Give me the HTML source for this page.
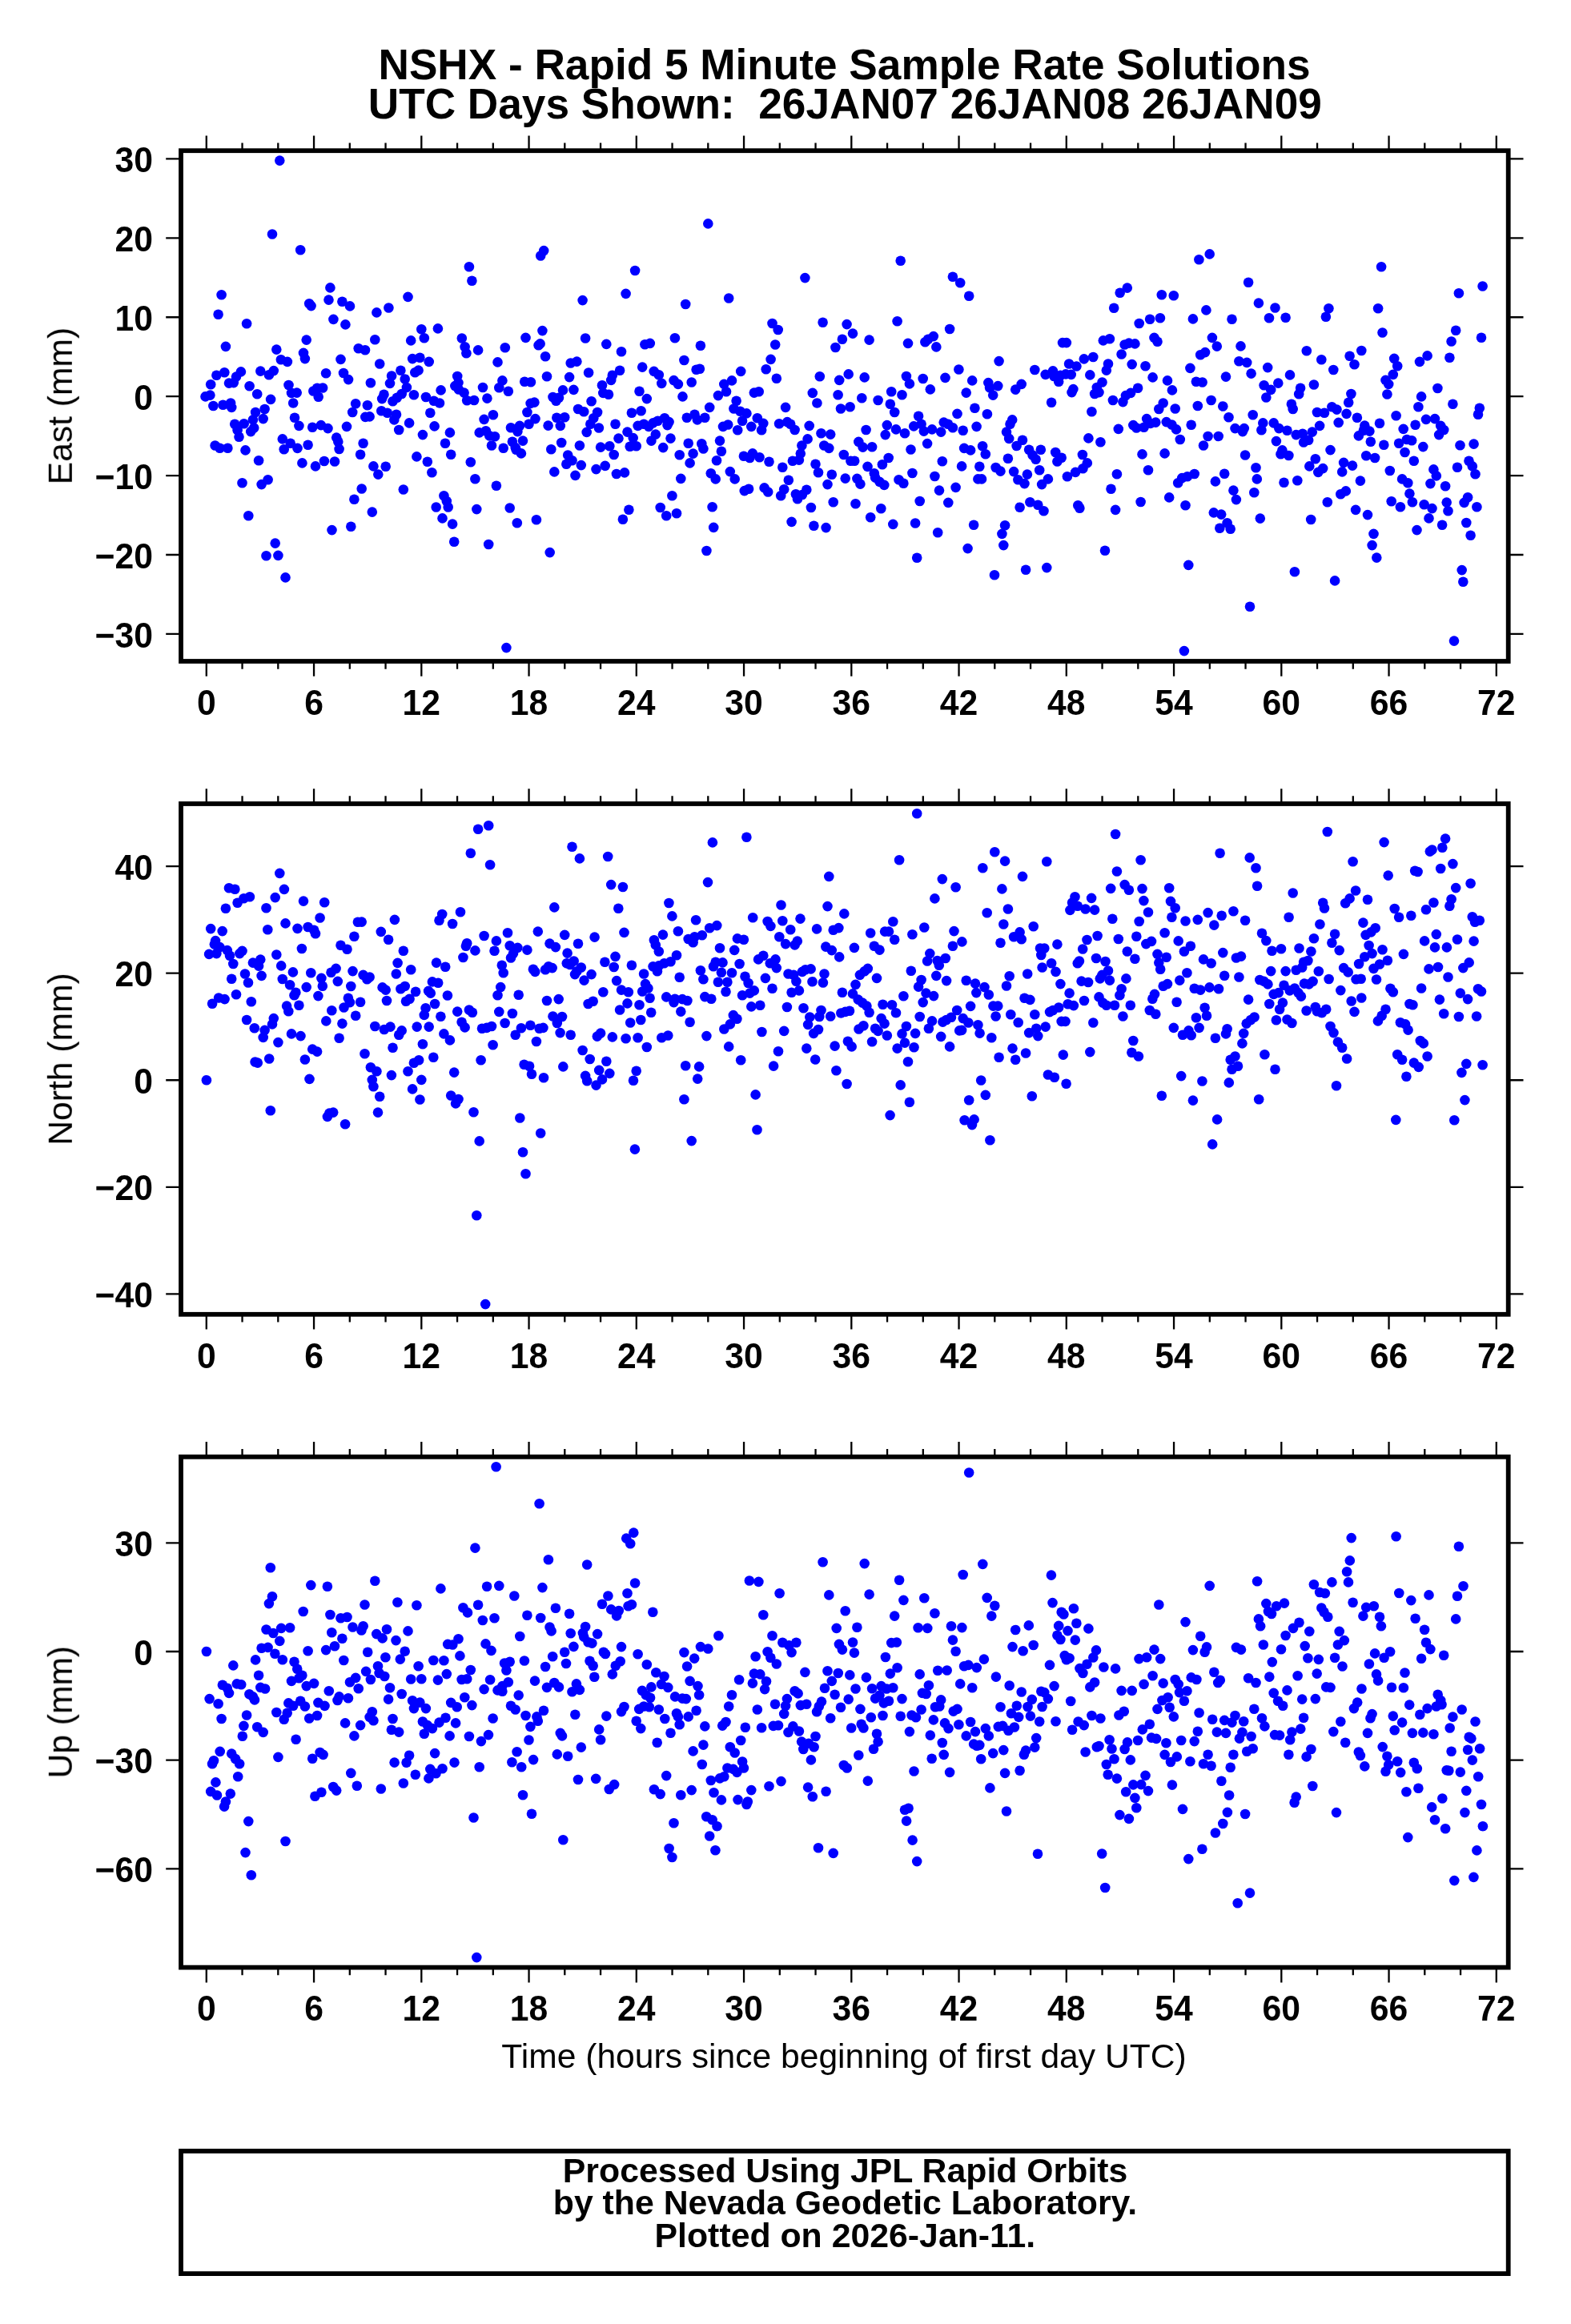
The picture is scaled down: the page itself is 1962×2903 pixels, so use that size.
<!DOCTYPE html>
<html><head><meta charset="utf-8"><title>NSHX</title>
<style>html,body{margin:0;padding:0;background:#fff}svg{display:block}text{font-family:"Liberation Sans",sans-serif;fill:#000}.b{font-weight:bold}</style></head><body>
<svg width="1962" height="2903" viewBox="0 0 1962 2903">
<rect width="1962" height="2903" fill="#fff"/>
<g fill="#0000ff">
<circle cx="414.5" cy="662.1" r="6.3"/><circle cx="1251.4" cy="666.9" r="6.3"/><circle cx="1715.5" cy="666.9" r="6.3"/><circle cx="891.2" cy="658.9" r="6.3"/><circle cx="438.3" cy="657.8" r="6.3"/><circle cx="1255.1" cy="656.2" r="6.3"/><circle cx="1216.1" cy="655.7" r="6.3"/><circle cx="1199.2" cy="353.2" r="6.3"/><circle cx="793.1" cy="338.0" r="6.3"/><circle cx="412.4" cy="359.4" r="6.3"/><circle cx="1637.2" cy="649.0" r="6.3"/><circle cx="1725.1" cy="333.2" r="6.3"/><circle cx="1253.3" cy="681.1" r="6.3"/><circle cx="1713.6" cy="681.1" r="6.3"/><circle cx="832.2" cy="644.2" r="6.3"/><circle cx="781.6" cy="366.9" r="6.3"/><circle cx="1189.9" cy="345.7" r="6.3"/><circle cx="777.9" cy="648.7" r="6.3"/><circle cx="1708.0" cy="643.1" r="6.3"/><circle cx="845.0" cy="641.2" r="6.3"/><circle cx="1210.2" cy="369.8" r="6.3"/><circle cx="1208.6" cy="685.1" r="6.3"/><circle cx="464.8" cy="639.6" r="6.3"/><circle cx="509.5" cy="370.9" r="6.3"/><circle cx="910.2" cy="372.5" r="6.3"/><circle cx="1303.5" cy="638.3" r="6.3"/><circle cx="882.4" cy="688.0" r="6.3"/><circle cx="1693.1" cy="636.9" r="6.3"/><circle cx="785.4" cy="636.7" r="6.3"/><circle cx="410.5" cy="374.6" r="6.3"/><circle cx="427.4" cy="376.7" r="6.3"/><circle cx="824.7" cy="634.0" r="6.3"/><circle cx="1273.6" cy="633.7" r="6.3"/><circle cx="1748.9" cy="633.2" r="6.3"/><circle cx="889.6" cy="633.2" r="6.3"/><circle cx="386.2" cy="379.2" r="6.3"/><circle cx="856.2" cy="380.0" r="6.3"/><circle cx="1296.3" cy="630.8" r="6.3"/><circle cx="1719.3" cy="696.6" r="6.3"/><circle cx="388.6" cy="382.1" r="6.3"/><circle cx="437.0" cy="382.4" r="6.3"/><circle cx="1184.3" cy="627.9" r="6.3"/><circle cx="375.2" cy="312.3" r="6.3"/><circle cx="1286.4" cy="627.3" r="6.3"/><circle cx="1657.8" cy="627.3" r="6.3"/><circle cx="1592.5" cy="384.5" r="6.3"/><circle cx="485.4" cy="384.5" r="6.3"/><circle cx="1737.7" cy="626.2" r="6.3"/><circle cx="1346.3" cy="631.3" r="6.3"/><circle cx="1659.4" cy="385.3" r="6.3"/><circle cx="1721.1" cy="385.3" r="6.3"/><circle cx="347.4" cy="693.9" r="6.3"/><circle cx="1171.2" cy="665.3" r="6.3"/><circle cx="442.4" cy="623.8" r="6.3"/><circle cx="1348.4" cy="634.8" r="6.3"/><circle cx="343.7" cy="678.6" r="6.3"/><circle cx="470.4" cy="390.4" r="6.3"/><circle cx="1763.9" cy="627.3" r="6.3"/><circle cx="839.4" cy="619.3" r="6.3"/><circle cx="1674.3" cy="617.2" r="6.3"/><circle cx="1307.3" cy="709.1" r="6.3"/><circle cx="1760.4" cy="616.6" r="6.3"/><circle cx="1573.8" cy="647.6" r="6.3"/><circle cx="1655.9" cy="395.7" r="6.3"/><circle cx="1769.5" cy="662.1" r="6.3"/><circle cx="1281.1" cy="711.8" r="6.3"/><circle cx="1605.6" cy="396.8" r="6.3"/><circle cx="1571.9" cy="378.6" r="6.3"/><circle cx="1585.0" cy="397.3" r="6.3"/><circle cx="1680.8" cy="613.4" r="6.3"/><circle cx="929.7" cy="613.1" r="6.3"/><circle cx="1173.0" cy="612.6" r="6.3"/><circle cx="416.4" cy="398.9" r="6.3"/><circle cx="1616.9" cy="714.2" r="6.3"/><circle cx="503.8" cy="611.5" r="6.3"/><circle cx="935.1" cy="610.7" r="6.3"/><circle cx="451.7" cy="610.5" r="6.3"/><circle cx="332.5" cy="694.2" r="6.3"/><circle cx="1193.6" cy="608.9" r="6.3"/><circle cx="1566.3" cy="615.3" r="6.3"/><circle cx="1242.0" cy="718.2" r="6.3"/><circle cx="340.0" cy="292.5" r="6.3"/><circle cx="431.4" cy="405.4" r="6.3"/><circle cx="1778.6" cy="630.3" r="6.3"/><circle cx="954.6" cy="609.4" r="6.3"/><circle cx="1301.1" cy="605.1" r="6.3"/><circle cx="326.6" cy="605.1" r="6.3"/><circle cx="356.5" cy="721.4" r="6.3"/><circle cx="1279.5" cy="604.1" r="6.3"/><circle cx="1758.3" cy="603.3" r="6.3"/><circle cx="544.7" cy="633.5" r="6.3"/><circle cx="1148.7" cy="626.0" r="6.3"/><circle cx="1603.5" cy="602.7" r="6.3"/><circle cx="1559.1" cy="352.7" r="6.3"/><circle cx="959.2" cy="614.5" r="6.3"/><circle cx="1698.9" cy="600.6" r="6.3"/><circle cx="1667.1" cy="725.4" r="6.3"/><circle cx="546.9" cy="410.4" r="6.3"/><circle cx="1620.3" cy="600.3" r="6.3"/><circle cx="1186.1" cy="411.0" r="6.3"/><circle cx="526.3" cy="411.2" r="6.3"/><circle cx="1784.5" cy="647.4" r="6.3"/><circle cx="1271.4" cy="599.2" r="6.3"/><circle cx="1145.2" cy="696.8" r="6.3"/><circle cx="334.6" cy="599.2" r="6.3"/><circle cx="1221.4" cy="598.4" r="6.3"/><circle cx="1226.0" cy="598.4" r="6.3"/><circle cx="1308.9" cy="598.4" r="6.3"/><circle cx="1569.8" cy="598.4" r="6.3"/><circle cx="1751.1" cy="598.4" r="6.3"/><circle cx="893.7" cy="598.4" r="6.3"/><circle cx="917.7" cy="598.4" r="6.3"/><circle cx="850.3" cy="597.9" r="6.3"/><circle cx="1786.4" cy="604.1" r="6.3"/><circle cx="1143.1" cy="653.5" r="6.3"/><circle cx="1726.5" cy="415.5" r="6.3"/><circle cx="1788.5" cy="635.1" r="6.3"/><circle cx="552.5" cy="647.4" r="6.3"/><circle cx="964.5" cy="404.0" r="6.3"/><circle cx="1332.9" cy="595.2" r="6.3"/><circle cx="1167.4" cy="595.0" r="6.3"/><circle cx="884.3" cy="279.4" r="6.3"/><circle cx="554.4" cy="619.3" r="6.3"/><circle cx="727.6" cy="375.1" r="6.3"/><circle cx="1282.9" cy="592.6" r="6.3"/><circle cx="472.3" cy="592.6" r="6.3"/><circle cx="1380.0" cy="687.7" r="6.3"/><circle cx="769.9" cy="592.0" r="6.3"/><circle cx="887.8" cy="591.2" r="6.3"/><circle cx="1139.4" cy="591.0" r="6.3"/><circle cx="1165.8" cy="420.1" r="6.3"/><circle cx="780.0" cy="590.4" r="6.3"/><circle cx="1793.8" cy="594.4" r="6.3"/><circle cx="539.4" cy="590.2" r="6.3"/><circle cx="557.8" cy="626.0" r="6.3"/><circle cx="1343.1" cy="589.9" r="6.3"/><circle cx="1646.3" cy="589.9" r="6.3"/><circle cx="1676.2" cy="589.4" r="6.3"/><circle cx="1266.1" cy="589.1" r="6.3"/><circle cx="911.8" cy="589.1" r="6.3"/><circle cx="529.8" cy="422.2" r="6.3"/><circle cx="842.9" cy="422.2" r="6.3"/><circle cx="1249.5" cy="588.6" r="6.3"/><circle cx="731.1" cy="422.5" r="6.3"/><circle cx="310.3" cy="644.2" r="6.3"/><circle cx="559.7" cy="633.5" r="6.3"/><circle cx="971.7" cy="412.0" r="6.3"/><circle cx="1735.8" cy="588.0" r="6.3"/><circle cx="1298.2" cy="587.2" r="6.3"/><circle cx="1159.1" cy="423.8" r="6.3"/><circle cx="468.3" cy="424.3" r="6.3"/><circle cx="1790.4" cy="586.4" r="6.3"/><circle cx="382.7" cy="424.6" r="6.3"/><circle cx="308.1" cy="404.3" r="6.3"/><circle cx="744.5" cy="586.1" r="6.3"/><circle cx="1385.9" cy="423.3" r="6.3"/><circle cx="1543.9" cy="624.1" r="6.3"/><circle cx="1377.8" cy="425.4" r="6.3"/><circle cx="513.2" cy="425.4" r="6.3"/><circle cx="1352.4" cy="585.3" r="6.3"/><circle cx="1652.2" cy="585.1" r="6.3"/><circle cx="975.2" cy="619.3" r="6.3"/><circle cx="1387.5" cy="610.7" r="6.3"/><circle cx="718.5" cy="593.9" r="6.3"/><circle cx="1568.5" cy="584.3" r="6.3"/><circle cx="1243.6" cy="584.0" r="6.3"/><circle cx="1155.4" cy="427.3" r="6.3"/><circle cx="1801.1" cy="655.7" r="6.3"/><circle cx="1327.0" cy="428.1" r="6.3"/><circle cx="1331.9" cy="428.1" r="6.3"/><circle cx="565.1" cy="654.6" r="6.3"/><circle cx="1223.3" cy="582.7" r="6.3"/><circle cx="481.7" cy="582.7" r="6.3"/><circle cx="977.3" cy="583.7" r="6.3"/><circle cx="1128.4" cy="603.8" r="6.3"/><circle cx="1540.4" cy="612.6" r="6.3"/><circle cx="1201.1" cy="582.4" r="6.3"/><circle cx="1635.3" cy="582.4" r="6.3"/><circle cx="394.0" cy="582.4" r="6.3"/><circle cx="466.4" cy="582.4" r="6.3"/><circle cx="1134.0" cy="428.9" r="6.3"/><circle cx="811.8" cy="428.9" r="6.3"/><circle cx="755.7" cy="581.9" r="6.3"/><circle cx="1689.0" cy="581.6" r="6.3"/><circle cx="757.3" cy="429.9" r="6.3"/><circle cx="725.8" cy="581.1" r="6.3"/><circle cx="805.4" cy="430.2" r="6.3"/><circle cx="1391.2" cy="384.8" r="6.3"/><circle cx="567.2" cy="676.8" r="6.3"/><circle cx="979.2" cy="611.3" r="6.3"/><circle cx="1538.5" cy="398.7" r="6.3"/><circle cx="302.5" cy="603.3" r="6.3"/><circle cx="968.2" cy="430.5" r="6.3"/><circle cx="874.9" cy="431.8" r="6.3"/><circle cx="1393.1" cy="636.9" r="6.3"/><circle cx="1805.1" cy="607.3" r="6.3"/><circle cx="1124.7" cy="325.7" r="6.3"/><circle cx="1536.7" cy="660.7" r="6.3"/><circle cx="1549.5" cy="432.4" r="6.3"/><circle cx="1357.8" cy="578.4" r="6.3"/><circle cx="377.4" cy="578.4" r="6.3"/><circle cx="861.6" cy="578.4" r="6.3"/><circle cx="1678.1" cy="577.9" r="6.3"/><circle cx="1169.3" cy="433.4" r="6.3"/><circle cx="1806.7" cy="627.6" r="6.3"/><circle cx="1394.9" cy="592.3" r="6.3"/><circle cx="533.8" cy="576.8" r="6.3"/><circle cx="960.5" cy="576.8" r="6.3"/><circle cx="1320.4" cy="576.5" r="6.3"/><circle cx="1122.5" cy="599.2" r="6.3"/><circle cx="418.0" cy="576.5" r="6.3"/><circle cx="1176.8" cy="576.3" r="6.3"/><circle cx="404.9" cy="576.0" r="6.3"/><circle cx="1765.8" cy="575.7" r="6.3"/><circle cx="447.7" cy="435.3" r="6.3"/><circle cx="1808.5" cy="638.3" r="6.3"/><circle cx="323.1" cy="575.2" r="6.3"/><circle cx="714.5" cy="575.2" r="6.3"/><circle cx="895.0" cy="575.2" r="6.3"/><circle cx="984.8" cy="599.8" r="6.3"/><circle cx="1120.6" cy="401.3" r="6.3"/><circle cx="1532.6" cy="653.2" r="6.3"/><circle cx="345.3" cy="436.6" r="6.3"/><circle cx="456.0" cy="437.2" r="6.3"/><circle cx="1293.6" cy="573.8" r="6.3"/><circle cx="1398.7" cy="365.8" r="6.3"/><circle cx="1642.8" cy="573.3" r="6.3"/><circle cx="707.3" cy="579.7" r="6.3"/><circle cx="1700.3" cy="438.0" r="6.3"/><circle cx="1631.8" cy="438.2" r="6.3"/><circle cx="1258.9" cy="572.8" r="6.3"/><circle cx="1717.1" cy="572.0" r="6.3"/><circle cx="936.4" cy="572.0" r="6.3"/><circle cx="1325.7" cy="571.7" r="6.3"/><circle cx="776.0" cy="439.3" r="6.3"/><circle cx="1812.6" cy="426.5" r="6.3"/><circle cx="988.6" cy="651.9" r="6.3"/><circle cx="1529.2" cy="591.8" r="6.3"/><circle cx="576.8" cy="422.5" r="6.3"/><circle cx="948.5" cy="571.2" r="6.3"/><circle cx="520.4" cy="570.4" r="6.3"/><circle cx="379.0" cy="440.9" r="6.3"/><circle cx="989.9" cy="575.7" r="6.3"/><circle cx="928.9" cy="569.8" r="6.3"/><circle cx="1115.3" cy="654.9" r="6.3"/><circle cx="1706.2" cy="569.3" r="6.3"/><circle cx="1609.4" cy="569.0" r="6.3"/><circle cx="1400.6" cy="442.5" r="6.3"/><circle cx="1289.6" cy="568.5" r="6.3"/><circle cx="1555.1" cy="568.5" r="6.3"/><circle cx="709.2" cy="568.5" r="6.3"/><circle cx="1561.0" cy="757.8" r="6.3"/><circle cx="848.7" cy="568.2" r="6.3"/><circle cx="1351.9" cy="568.0" r="6.3"/><circle cx="766.7" cy="568.0" r="6.3"/><circle cx="450.1" cy="567.7" r="6.3"/><circle cx="563.2" cy="567.7" r="6.3"/><circle cx="1404.6" cy="430.5" r="6.3"/><circle cx="580.6" cy="433.2" r="6.3"/><circle cx="1230.8" cy="567.2" r="6.3"/><circle cx="1599.5" cy="567.2" r="6.3"/><circle cx="1525.2" cy="642.6" r="6.3"/><circle cx="1782.6" cy="444.4" r="6.3"/><circle cx="865.6" cy="566.6" r="6.3"/><circle cx="939.9" cy="566.4" r="6.3"/><circle cx="1685.6" cy="444.7" r="6.3"/><circle cx="993.9" cy="617.2" r="6.3"/><circle cx="1818.2" cy="412.8" r="6.3"/><circle cx="582.4" cy="441.2" r="6.3"/><circle cx="1523.3" cy="659.7" r="6.3"/><circle cx="1365.3" cy="446.0" r="6.3"/><circle cx="1318.2" cy="565.0" r="6.3"/><circle cx="1754.5" cy="565.0" r="6.3"/><circle cx="1407.8" cy="359.6" r="6.3"/><circle cx="1810.4" cy="446.8" r="6.3"/><circle cx="524.4" cy="446.8" r="6.3"/><circle cx="1820.0" cy="583.7" r="6.3"/><circle cx="996.0" cy="623.3" r="6.3"/><circle cx="1109.7" cy="572.0" r="6.3"/><circle cx="900.9" cy="563.7" r="6.3"/><circle cx="1741.2" cy="447.9" r="6.3"/><circle cx="380.9" cy="448.1" r="6.3"/><circle cx="515.1" cy="448.1" r="6.3"/><circle cx="1353.8" cy="448.4" r="6.3"/><circle cx="1212.1" cy="562.4" r="6.3"/><circle cx="1601.4" cy="562.4" r="6.3"/><circle cx="306.5" cy="562.4" r="6.3"/><circle cx="1661.5" cy="562.1" r="6.3"/><circle cx="585.9" cy="333.2" r="6.3"/><circle cx="425.5" cy="448.9" r="6.3"/><circle cx="962.6" cy="448.9" r="6.3"/><circle cx="997.9" cy="574.6" r="6.3"/><circle cx="1409.9" cy="428.6" r="6.3"/><circle cx="1821.9" cy="366.3" r="6.3"/><circle cx="1650.3" cy="449.2" r="6.3"/><circle cx="350.9" cy="449.2" r="6.3"/><circle cx="1285.1" cy="561.8" r="6.3"/><circle cx="1299.8" cy="561.8" r="6.3"/><circle cx="1519.8" cy="432.6" r="6.3"/><circle cx="1137.5" cy="561.5" r="6.3"/><circle cx="354.7" cy="561.3" r="6.3"/><circle cx="423.6" cy="561.0" r="6.3"/><circle cx="854.4" cy="450.0" r="6.3"/><circle cx="878.4" cy="560.5" r="6.3"/><circle cx="587.8" cy="577.3" r="6.3"/><circle cx="999.8" cy="566.6" r="6.3"/><circle cx="1517.9" cy="601.4" r="6.3"/><circle cx="1247.6" cy="451.1" r="6.3"/><circle cx="1204.1" cy="559.9" r="6.3"/><circle cx="281.9" cy="432.9" r="6.3"/><circle cx="371.5" cy="559.9" r="6.3"/><circle cx="284.4" cy="559.7" r="6.3"/><circle cx="1547.4" cy="451.3" r="6.3"/><circle cx="720.4" cy="451.6" r="6.3"/><circle cx="1773.0" cy="451.9" r="6.3"/><circle cx="358.9" cy="451.9" r="6.3"/><circle cx="535.7" cy="451.9" r="6.3"/><circle cx="828.2" cy="559.1" r="6.3"/><circle cx="589.4" cy="350.8" r="6.3"/><circle cx="750.1" cy="558.6" r="6.3"/><circle cx="1104.3" cy="605.9" r="6.3"/><circle cx="1825.7" cy="712.1" r="6.3"/><circle cx="692.3" cy="589.4" r="6.3"/><circle cx="1557.2" cy="452.9" r="6.3"/><circle cx="1777.3" cy="558.1" r="6.3"/><circle cx="1001.9" cy="618.0" r="6.3"/><circle cx="1515.8" cy="640.4" r="6.3"/><circle cx="786.7" cy="557.8" r="6.3"/><circle cx="712.7" cy="453.5" r="6.3"/><circle cx="1227.1" cy="557.3" r="6.3"/><circle cx="761.3" cy="557.3" r="6.3"/><circle cx="794.7" cy="557.3" r="6.3"/><circle cx="1269.6" cy="557.0" r="6.3"/><circle cx="1827.3" cy="726.8" r="6.3"/><circle cx="1335.1" cy="454.5" r="6.3"/><circle cx="1384.0" cy="454.5" r="6.3"/><circle cx="474.2" cy="454.5" r="6.3"/><circle cx="723.9" cy="556.5" r="6.3"/><circle cx="1001.4" cy="556.5" r="6.3"/><circle cx="1823.5" cy="556.2" r="6.3"/><circle cx="1101.9" cy="580.3" r="6.3"/><circle cx="1513.9" cy="421.9" r="6.3"/><circle cx="1413.7" cy="455.1" r="6.3"/><circle cx="1728.3" cy="555.7" r="6.3"/><circle cx="384.6" cy="555.7" r="6.3"/><circle cx="1691.5" cy="455.3" r="6.3"/><circle cx="1828.6" cy="627.9" r="6.3"/><circle cx="276.6" cy="368.2" r="6.3"/><circle cx="593.4" cy="598.2" r="6.3"/><circle cx="1005.4" cy="347.1" r="6.3"/><circle cx="1417.4" cy="429.4" r="6.3"/><circle cx="1100.3" cy="635.3" r="6.3"/><circle cx="688.3" cy="561.3" r="6.3"/><circle cx="876.3" cy="554.3" r="6.3"/><circle cx="1158.1" cy="554.1" r="6.3"/><circle cx="1745.2" cy="457.2" r="6.3"/><circle cx="1747.1" cy="553.8" r="6.3"/><circle cx="362.7" cy="553.8" r="6.3"/><circle cx="453.6" cy="553.8" r="6.3"/><circle cx="556.0" cy="553.8" r="6.3"/><circle cx="859.7" cy="553.8" r="6.3"/><circle cx="1344.4" cy="457.5" r="6.3"/><circle cx="701.2" cy="553.0" r="6.3"/><circle cx="1510.7" cy="317.4" r="6.3"/><circle cx="1831.3" cy="653.0" r="6.3"/><circle cx="595.3" cy="636.1" r="6.3"/><circle cx="1007.3" cy="611.8" r="6.3"/><circle cx="686.7" cy="690.1" r="6.3"/><circle cx="1098.5" cy="601.9" r="6.3"/><circle cx="1628.1" cy="552.5" r="6.3"/><circle cx="274.5" cy="559.7" r="6.3"/><circle cx="802.2" cy="458.6" r="6.3"/><circle cx="1374.4" cy="552.2" r="6.3"/><circle cx="1583.2" cy="459.1" r="6.3"/><circle cx="1711.8" cy="551.7" r="6.3"/><circle cx="422.3" cy="551.7" r="6.3"/><circle cx="1593.9" cy="551.1" r="6.3"/><circle cx="1833.1" cy="621.2" r="6.3"/><circle cx="597.1" cy="437.4" r="6.3"/><circle cx="272.6" cy="392.8" r="6.3"/><circle cx="813.4" cy="550.6" r="6.3"/><circle cx="899.0" cy="550.6" r="6.3"/><circle cx="873.9" cy="460.7" r="6.3"/><circle cx="1763.1" cy="550.3" r="6.3"/><circle cx="956.7" cy="461.2" r="6.3"/><circle cx="1277.0" cy="549.8" r="6.3"/><circle cx="1634.2" cy="549.8" r="6.3"/><circle cx="1197.4" cy="461.5" r="6.3"/><circle cx="1834.5" cy="575.7" r="6.3"/><circle cx="1422.7" cy="404.0" r="6.3"/><circle cx="869.6" cy="461.8" r="6.3"/><circle cx="1292.3" cy="462.0" r="6.3"/><circle cx="1665.3" cy="462.0" r="6.3"/><circle cx="1757.0" cy="549.0" r="6.3"/><circle cx="1506.4" cy="387.4" r="6.3"/><circle cx="1381.8" cy="462.6" r="6.3"/><circle cx="522.6" cy="462.6" r="6.3"/><circle cx="352.8" cy="548.4" r="6.3"/><circle cx="1008.6" cy="548.4" r="6.3"/><circle cx="500.4" cy="462.8" r="6.3"/><circle cx="774.1" cy="462.8" r="6.3"/><circle cx="1260.2" cy="547.9" r="6.3"/><circle cx="341.8" cy="463.1" r="6.3"/><circle cx="1315.0" cy="463.4" r="6.3"/><circle cx="772.5" cy="547.6" r="6.3"/><circle cx="837.5" cy="547.6" r="6.3"/><circle cx="1424.6" cy="627.0" r="6.3"/><circle cx="1836.6" cy="668.8" r="6.3"/><circle cx="1359.4" cy="547.4" r="6.3"/><circle cx="325.3" cy="463.6" r="6.3"/><circle cx="681.1" cy="445.2" r="6.3"/><circle cx="925.2" cy="463.9" r="6.3"/><circle cx="816.7" cy="463.9" r="6.3"/><circle cx="790.7" cy="547.1" r="6.3"/><circle cx="1012.9" cy="634.0" r="6.3"/><circle cx="1093.1" cy="596.6" r="6.3"/><circle cx="1505.1" cy="440.1" r="6.3"/><circle cx="300.9" cy="464.4" r="6.3"/><circle cx="420.2" cy="546.6" r="6.3"/><circle cx="268.6" cy="556.5" r="6.3"/><circle cx="518.3" cy="465.2" r="6.3"/><circle cx="280.3" cy="465.2" r="6.3"/><circle cx="1091.8" cy="591.2" r="6.3"/><circle cx="298.5" cy="545.8" r="6.3"/><circle cx="1426.5" cy="567.4" r="6.3"/><circle cx="735.1" cy="465.5" r="6.3"/><circle cx="1838.8" cy="582.4" r="6.3"/><circle cx="679.2" cy="313.1" r="6.3"/><circle cx="1508.6" cy="545.0" r="6.3"/><circle cx="1521.7" cy="545.0" r="6.3"/><circle cx="1503.0" cy="556.5" r="6.3"/><circle cx="429.0" cy="466.0" r="6.3"/><circle cx="407.1" cy="466.3" r="6.3"/><circle cx="1562.6" cy="466.6" r="6.3"/><circle cx="1696.8" cy="544.4" r="6.3"/><circle cx="1331.0" cy="467.4" r="6.3"/><circle cx="1016.4" cy="656.7" r="6.3"/><circle cx="1840.6" cy="554.6" r="6.3"/><circle cx="677.4" cy="413.1" r="6.3"/><circle cx="1305.7" cy="467.9" r="6.3"/><circle cx="1337.7" cy="467.9" r="6.3"/><circle cx="1105.7" cy="543.1" r="6.3"/><circle cx="1739.8" cy="467.9" r="6.3"/><circle cx="1618.7" cy="543.1" r="6.3"/><circle cx="1797.1" cy="543.1" r="6.3"/><circle cx="527.9" cy="543.1" r="6.3"/><circle cx="1089.1" cy="558.3" r="6.3"/><circle cx="335.9" cy="468.2" r="6.3"/><circle cx="822.8" cy="468.2" r="6.3"/><circle cx="1361.3" cy="468.4" r="6.3"/><circle cx="1611.0" cy="468.4" r="6.3"/><circle cx="818.8" cy="542.6" r="6.3"/><circle cx="1324.4" cy="468.7" r="6.3"/><circle cx="270.4" cy="468.7" r="6.3"/><circle cx="764.8" cy="468.7" r="6.3"/><circle cx="1626.8" cy="541.8" r="6.3"/><circle cx="1430.5" cy="457.2" r="6.3"/><circle cx="1842.5" cy="592.3" r="6.3"/><circle cx="489.1" cy="469.5" r="6.3"/><circle cx="1018.5" cy="579.7" r="6.3"/><circle cx="1130.0" cy="541.2" r="6.3"/><circle cx="1087.2" cy="646.3" r="6.3"/><circle cx="1499.2" cy="443.3" r="6.3"/><circle cx="675.2" cy="319.5" r="6.3"/><circle cx="1316.3" cy="470.0" r="6.3"/><circle cx="1131.9" cy="470.0" r="6.3"/><circle cx="571.2" cy="470.0" r="6.3"/><circle cx="683.0" cy="470.3" r="6.3"/><circle cx="1531.0" cy="470.6" r="6.3"/><circle cx="295.0" cy="470.6" r="6.3"/><circle cx="561.9" cy="540.4" r="6.3"/><circle cx="598.7" cy="540.4" r="6.3"/><circle cx="711.1" cy="471.1" r="6.3"/><circle cx="732.7" cy="539.9" r="6.3"/><circle cx="1175.2" cy="539.6" r="6.3"/><circle cx="1257.0" cy="539.6" r="6.3"/><circle cx="1638.8" cy="539.6" r="6.3"/><circle cx="783.5" cy="539.6" r="6.3"/><circle cx="1085.6" cy="424.6" r="6.3"/><circle cx="1844.4" cy="633.2" r="6.3"/><circle cx="1497.4" cy="324.3" r="6.3"/><circle cx="1180.5" cy="471.9" r="6.3"/><circle cx="1551.9" cy="539.1" r="6.3"/><circle cx="313.2" cy="539.1" r="6.3"/><circle cx="1153.8" cy="538.6" r="6.3"/><circle cx="1710.4" cy="538.6" r="6.3"/><circle cx="672.6" cy="431.3" r="6.3"/><circle cx="969.8" cy="472.7" r="6.3"/><circle cx="606.8" cy="538.3" r="6.3"/><circle cx="1152.7" cy="473.0" r="6.3"/><circle cx="1434.0" cy="587.2" r="6.3"/><circle cx="1022.0" cy="590.2" r="6.3"/><circle cx="1202.7" cy="537.8" r="6.3"/><circle cx="1607.5" cy="537.8" r="6.3"/><circle cx="1702.9" cy="537.8" r="6.3"/><circle cx="610.2" cy="680.0" r="6.3"/><circle cx="1083.5" cy="582.9" r="6.3"/><circle cx="505.7" cy="473.5" r="6.3"/><circle cx="1575.4" cy="537.2" r="6.3"/><circle cx="296.6" cy="537.2" r="6.3"/><circle cx="921.2" cy="537.2" r="6.3"/><circle cx="951.1" cy="537.2" r="6.3"/><circle cx="1803.2" cy="537.0" r="6.3"/><circle cx="498.2" cy="537.0" r="6.3"/><circle cx="992.6" cy="537.0" r="6.3"/><circle cx="435.1" cy="474.1" r="6.3"/><circle cx="611.3" cy="544.4" r="6.3"/><circle cx="1119.0" cy="536.4" r="6.3"/><circle cx="1164.0" cy="536.4" r="6.3"/><circle cx="1023.8" cy="470.3" r="6.3"/><circle cx="1730.5" cy="474.9" r="6.3"/><circle cx="763.2" cy="474.9" r="6.3"/><circle cx="1436.1" cy="398.7" r="6.3"/><circle cx="1396.8" cy="535.9" r="6.3"/><circle cx="1752.7" cy="535.9" r="6.3"/><circle cx="841.5" cy="475.1" r="6.3"/><circle cx="669.9" cy="649.2" r="6.3"/><circle cx="1214.2" cy="475.4" r="6.3"/><circle cx="914.0" cy="475.4" r="6.3"/><circle cx="1081.6" cy="537.0" r="6.3"/><circle cx="1597.3" cy="535.1" r="6.3"/><circle cx="1542.5" cy="535.1" r="6.3"/><circle cx="1553.8" cy="535.1" r="6.3"/><circle cx="409.5" cy="535.1" r="6.3"/><circle cx="1419.3" cy="534.5" r="6.3"/><circle cx="317.2" cy="534.5" r="6.3"/><circle cx="747.9" cy="534.5" r="6.3"/><circle cx="1025.5" cy="541.2" r="6.3"/><circle cx="1322.2" cy="476.7" r="6.3"/><circle cx="1493.9" cy="476.7" r="6.3"/><circle cx="1189.9" cy="534.3" r="6.3"/><circle cx="1850.0" cy="421.7" r="6.3"/><circle cx="614.0" cy="556.5" r="6.3"/><circle cx="1079.7" cy="471.4" r="6.3"/><circle cx="1428.6" cy="533.7" r="6.3"/><circle cx="1491.7" cy="592.0" r="6.3"/><circle cx="390.2" cy="533.7" r="6.3"/><circle cx="1376.5" cy="477.5" r="6.3"/><circle cx="1501.6" cy="477.5" r="6.3"/><circle cx="863.7" cy="477.5" r="6.3"/><circle cx="1234.3" cy="478.1" r="6.3"/><circle cx="1219.6" cy="532.9" r="6.3"/><circle cx="291.8" cy="478.1" r="6.3"/><circle cx="572.5" cy="478.1" r="6.3"/><circle cx="433.0" cy="532.9" r="6.3"/><circle cx="810.2" cy="532.9" r="6.3"/><circle cx="903.0" cy="532.9" r="6.3"/><circle cx="938.3" cy="532.9" r="6.3"/><circle cx="462.9" cy="478.3" r="6.3"/><circle cx="1439.6" cy="471.4" r="6.3"/><circle cx="1851.6" cy="357.5" r="6.3"/><circle cx="1027.6" cy="402.7" r="6.3"/><circle cx="1141.2" cy="532.4" r="6.3"/><circle cx="1596.3" cy="478.6" r="6.3"/><circle cx="286.0" cy="478.6" r="6.3"/><circle cx="542.6" cy="532.4" r="6.3"/><circle cx="487.0" cy="478.9" r="6.3"/><circle cx="826.3" cy="478.9" r="6.3"/><circle cx="1489.9" cy="398.4" r="6.3"/><circle cx="1648.1" cy="531.9" r="6.3"/><circle cx="1799.2" cy="531.9" r="6.3"/><circle cx="373.4" cy="531.9" r="6.3"/><circle cx="699.8" cy="531.9" r="6.3"/><circle cx="796.6" cy="531.9" r="6.3"/><circle cx="1010.7" cy="531.9" r="6.3"/><circle cx="1135.9" cy="479.4" r="6.3"/><circle cx="1704.3" cy="531.6" r="6.3"/><circle cx="684.6" cy="531.6" r="6.3"/><circle cx="1077.6" cy="558.6" r="6.3"/><circle cx="1275.7" cy="479.9" r="6.3"/><circle cx="1107.8" cy="531.1" r="6.3"/><circle cx="1415.3" cy="531.1" r="6.3"/><circle cx="1734.2" cy="479.9" r="6.3"/><circle cx="400.9" cy="531.1" r="6.3"/><circle cx="846.9" cy="479.9" r="6.3"/><circle cx="904.3" cy="479.9" r="6.3"/><circle cx="833.5" cy="531.1" r="6.3"/><circle cx="263.2" cy="480.2" r="6.3"/><circle cx="1767.6" cy="530.8" r="6.3"/><circle cx="1029.2" cy="556.5" r="6.3"/><circle cx="1441.5" cy="421.9" r="6.3"/><circle cx="1640.9" cy="480.5" r="6.3"/><circle cx="909.2" cy="530.5" r="6.3"/><circle cx="360.5" cy="481.0" r="6.3"/><circle cx="618.0" cy="545.2" r="6.3"/><circle cx="1261.5" cy="529.7" r="6.3"/><circle cx="1184.0" cy="529.7" r="6.3"/><circle cx="1150.6" cy="529.7" r="6.3"/><circle cx="1487.7" cy="530.8" r="6.3"/><circle cx="293.2" cy="529.7" r="6.3"/><circle cx="737.3" cy="529.7" r="6.3"/><circle cx="768.5" cy="529.7" r="6.3"/><circle cx="804.1" cy="529.7" r="6.3"/><circle cx="987.2" cy="529.7" r="6.3"/><circle cx="1578.6" cy="481.3" r="6.3"/><circle cx="752.0" cy="481.3" r="6.3"/><circle cx="304.7" cy="529.2" r="6.3"/><circle cx="973.1" cy="529.2" r="6.3"/><circle cx="1246.3" cy="482.1" r="6.3"/><circle cx="1436.7" cy="528.9" r="6.3"/><circle cx="568.3" cy="482.1" r="6.3"/><circle cx="662.9" cy="477.3" r="6.3"/><circle cx="953.3" cy="528.9" r="6.3"/><circle cx="1723.0" cy="528.7" r="6.3"/><circle cx="311.6" cy="482.3" r="6.3"/><circle cx="1074.4" cy="604.6" r="6.3"/><circle cx="1486.4" cy="459.9" r="6.3"/><circle cx="1031.6" cy="659.1" r="6.3"/><circle cx="1577.3" cy="528.4" r="6.3"/><circle cx="1590.7" cy="528.4" r="6.3"/><circle cx="511.1" cy="528.4" r="6.3"/><circle cx="815.6" cy="528.4" r="6.3"/><circle cx="619.9" cy="606.7" r="6.3"/><circle cx="1671.7" cy="527.9" r="6.3"/><circle cx="1178.7" cy="527.6" r="6.3"/><circle cx="1443.3" cy="527.6" r="6.3"/><circle cx="835.6" cy="527.1" r="6.3"/><circle cx="983.2" cy="527.1" r="6.3"/><circle cx="1369.8" cy="484.0" r="6.3"/><circle cx="507.9" cy="484.0" r="6.3"/><circle cx="603.0" cy="484.0" r="6.3"/><circle cx="1236.1" cy="484.2" r="6.3"/><circle cx="1445.5" cy="426.7" r="6.3"/><circle cx="621.5" cy="452.4" r="6.3"/><circle cx="403.1" cy="484.5" r="6.3"/><circle cx="660.5" cy="529.7" r="6.3"/><circle cx="1033.5" cy="605.1" r="6.3"/><circle cx="1072.3" cy="551.9" r="6.3"/><circle cx="1484.3" cy="705.9" r="6.3"/><circle cx="1421.1" cy="484.8" r="6.3"/><circle cx="1624.1" cy="484.8" r="6.3"/><circle cx="396.1" cy="484.8" r="6.3"/><circle cx="1795.4" cy="485.0" r="6.3"/><circle cx="821.5" cy="525.7" r="6.3"/><circle cx="927.1" cy="525.7" r="6.3"/><circle cx="1816.0" cy="800.6" r="6.3"/><circle cx="1482.9" cy="595.2" r="6.3"/><circle cx="1340.4" cy="486.1" r="6.3"/><circle cx="623.3" cy="484.2" r="6.3"/><circle cx="1035.3" cy="559.9" r="6.3"/><circle cx="1161.8" cy="486.4" r="6.3"/><circle cx="1070.4" cy="597.9" r="6.3"/><circle cx="1268.2" cy="486.6" r="6.3"/><circle cx="1264.2" cy="524.4" r="6.3"/><circle cx="315.9" cy="524.4" r="6.3"/><circle cx="492.3" cy="524.4" r="6.3"/><circle cx="870.9" cy="524.4" r="6.3"/><circle cx="1587.2" cy="486.9" r="6.3"/><circle cx="716.4" cy="486.9" r="6.3"/><circle cx="1781.0" cy="523.9" r="6.3"/><circle cx="604.6" cy="523.9" r="6.3"/><circle cx="550.6" cy="487.4" r="6.3"/><circle cx="703.0" cy="487.4" r="6.3"/><circle cx="1432.1" cy="523.1" r="6.3"/><circle cx="1792.0" cy="523.1" r="6.3"/><circle cx="328.7" cy="523.1" r="6.3"/><circle cx="668.5" cy="523.1" r="6.3"/><circle cx="1448.9" cy="397.3" r="6.3"/><circle cx="1037.2" cy="542.6" r="6.3"/><circle cx="1068.5" cy="629.2" r="6.3"/><circle cx="1480.5" cy="631.3" r="6.3"/><circle cx="391.3" cy="488.5" r="6.3"/><circle cx="656.5" cy="421.9" r="6.3"/><circle cx="741.3" cy="522.2" r="6.3"/><circle cx="830.0" cy="522.2" r="6.3"/><circle cx="945.8" cy="522.2" r="6.3"/><circle cx="798.5" cy="488.8" r="6.3"/><circle cx="1694.9" cy="521.7" r="6.3"/><circle cx="368.0" cy="521.7" r="6.3"/><circle cx="695.3" cy="521.7" r="6.3"/><circle cx="857.8" cy="521.7" r="6.3"/><circle cx="880.3" cy="521.7" r="6.3"/><circle cx="1113.2" cy="489.3" r="6.3"/><circle cx="907.0" cy="489.3" r="6.3"/><circle cx="947.7" cy="489.3" r="6.3"/><circle cx="1450.8" cy="368.2" r="6.3"/><circle cx="1067.2" cy="575.7" r="6.3"/><circle cx="1534.5" cy="521.2" r="6.3"/><circle cx="655.2" cy="476.7" r="6.3"/><circle cx="705.2" cy="521.2" r="6.3"/><circle cx="1038.8" cy="592.8" r="6.3"/><circle cx="1338.5" cy="490.1" r="6.3"/><circle cx="1372.5" cy="490.1" r="6.3"/><circle cx="456.3" cy="520.9" r="6.3"/><circle cx="627.4" cy="475.4" r="6.3"/><circle cx="1206.7" cy="490.6" r="6.3"/><circle cx="370.7" cy="490.6" r="6.3"/><circle cx="461.6" cy="520.4" r="6.3"/><circle cx="941.8" cy="490.6" r="6.3"/><circle cx="1412.1" cy="490.9" r="6.3"/><circle cx="364.0" cy="490.9" r="6.3"/><circle cx="1014.8" cy="490.9" r="6.3"/><circle cx="753.3" cy="490.9" r="6.3"/><circle cx="1147.1" cy="519.8" r="6.3"/><circle cx="1743.6" cy="519.3" r="6.3"/><circle cx="628.7" cy="559.7" r="6.3"/><circle cx="1040.7" cy="627.3" r="6.3"/><circle cx="1065.0" cy="416.6" r="6.3"/><circle cx="1367.1" cy="492.0" r="6.3"/><circle cx="1687.4" cy="492.0" r="6.3"/><circle cx="501.7" cy="492.0" r="6.3"/><circle cx="653.0" cy="550.6" r="6.3"/><circle cx="1622.2" cy="492.2" r="6.3"/><circle cx="321.2" cy="492.2" r="6.3"/><circle cx="1732.4" cy="492.5" r="6.3"/><circle cx="1564.7" cy="518.2" r="6.3"/><circle cx="1476.2" cy="597.1" r="6.3"/><circle cx="615.9" cy="518.2" r="6.3"/><circle cx="479.5" cy="492.8" r="6.3"/><circle cx="760.0" cy="492.8" r="6.3"/><circle cx="1846.0" cy="517.7" r="6.3"/><circle cx="495.0" cy="517.7" r="6.3"/><circle cx="867.5" cy="517.7" r="6.3"/><circle cx="1126.5" cy="493.3" r="6.3"/><circle cx="516.9" cy="493.3" r="6.3"/><circle cx="1454.6" cy="566.4" r="6.3"/><circle cx="1240.2" cy="493.6" r="6.3"/><circle cx="262.4" cy="493.6" r="6.3"/><circle cx="1232.9" cy="517.2" r="6.3"/><circle cx="630.8" cy="434.2" r="6.3"/><circle cx="1405.9" cy="494.1" r="6.3"/><circle cx="1195.5" cy="516.9" r="6.3"/><circle cx="1681.6" cy="516.9" r="6.3"/><circle cx="896.9" cy="494.1" r="6.3"/><circle cx="650.9" cy="566.4" r="6.3"/><circle cx="1043.4" cy="434.0" r="6.3"/><circle cx="1062.4" cy="575.7" r="6.3"/><circle cx="932.4" cy="516.4" r="6.3"/><circle cx="1654.0" cy="515.8" r="6.3"/><circle cx="1473.8" cy="549.0" r="6.3"/><circle cx="483.8" cy="515.8" r="6.3"/><circle cx="537.3" cy="515.8" r="6.3"/><circle cx="788.9" cy="515.8" r="6.3"/><circle cx="1775.1" cy="495.4" r="6.3"/><circle cx="256.5" cy="495.4" r="6.3"/><circle cx="632.4" cy="809.1" r="6.3"/><circle cx="852.5" cy="495.4" r="6.3"/><circle cx="349.3" cy="200.6" r="6.3"/><circle cx="397.7" cy="495.7" r="6.3"/><circle cx="1456.7" cy="527.1" r="6.3"/><circle cx="1117.2" cy="515.0" r="6.3"/><circle cx="1644.9" cy="515.0" r="6.3"/><circle cx="531.9" cy="496.0" r="6.3"/><circle cx="319.1" cy="515.0" r="6.3"/><circle cx="440.2" cy="515.0" r="6.3"/><circle cx="690.5" cy="496.0" r="6.3"/><circle cx="658.4" cy="515.0" r="6.3"/><circle cx="746.1" cy="515.0" r="6.3"/><circle cx="649.0" cy="531.9" r="6.3"/><circle cx="1581.3" cy="496.5" r="6.3"/><circle cx="1363.4" cy="514.2" r="6.3"/><circle cx="729.2" cy="514.2" r="6.3"/><circle cx="495.8" cy="496.8" r="6.3"/><circle cx="698.0" cy="496.8" r="6.3"/><circle cx="1458.0" cy="475.4" r="6.3"/><circle cx="1059.7" cy="467.4" r="6.3"/><circle cx="924.4" cy="513.7" r="6.3"/><circle cx="1076.3" cy="497.3" r="6.3"/><circle cx="1046.6" cy="493.3" r="6.3"/><circle cx="608.4" cy="497.6" r="6.3"/><circle cx="1471.2" cy="603.3" r="6.3"/><circle cx="634.8" cy="488.8" r="6.3"/><circle cx="476.3" cy="513.2" r="6.3"/><circle cx="800.6" cy="513.2" r="6.3"/><circle cx="1478.9" cy="813.1" r="6.3"/><circle cx="477.1" cy="498.1" r="6.3"/><circle cx="807.8" cy="498.1" r="6.3"/><circle cx="646.4" cy="539.1" r="6.3"/><circle cx="338.1" cy="498.9" r="6.3"/><circle cx="1460.2" cy="621.4" r="6.3"/><circle cx="1048.2" cy="474.9" r="6.3"/><circle cx="645.8" cy="653.2" r="6.3"/><circle cx="1669.5" cy="511.6" r="6.3"/><circle cx="1057.6" cy="405.1" r="6.3"/><circle cx="636.7" cy="634.5" r="6.3"/><circle cx="1096.6" cy="500.0" r="6.3"/><circle cx="1389.9" cy="500.0" r="6.3"/><circle cx="1447.3" cy="511.0" r="6.3"/><circle cx="1512.6" cy="500.0" r="6.3"/><circle cx="1614.7" cy="511.0" r="6.3"/><circle cx="1469.0" cy="536.4" r="6.3"/><circle cx="592.1" cy="500.0" r="6.3"/><circle cx="330.6" cy="511.0" r="6.3"/><circle cx="722.0" cy="511.0" r="6.3"/><circle cx="583.2" cy="500.3" r="6.3"/><circle cx="916.4" cy="510.5" r="6.3"/><circle cx="541.8" cy="500.8" r="6.3"/><circle cx="694.5" cy="500.8" r="6.3"/><circle cx="919.6" cy="500.8" r="6.3"/><circle cx="638.0" cy="534.3" r="6.3"/><circle cx="1050.0" cy="510.5" r="6.3"/><circle cx="1055.7" cy="597.6" r="6.3"/><circle cx="1467.7" cy="510.5" r="6.3"/><circle cx="643.7" cy="559.1" r="6.3"/><circle cx="1217.4" cy="509.7" r="6.3"/><circle cx="1847.8" cy="509.7" r="6.3"/><circle cx="490.5" cy="501.3" r="6.3"/><circle cx="738.6" cy="501.3" r="6.3"/><circle cx="1402.4" cy="502.1" r="6.3"/><circle cx="289.2" cy="508.9" r="6.3"/><circle cx="886.2" cy="508.9" r="6.3"/><circle cx="981.1" cy="508.9" r="6.3"/><circle cx="1463.4" cy="530.5" r="6.3"/><circle cx="1313.1" cy="502.7" r="6.3"/><circle cx="1061.6" cy="508.3" r="6.3"/><circle cx="1684.2" cy="502.7" r="6.3"/><circle cx="1663.4" cy="508.3" r="6.3"/><circle cx="1771.4" cy="508.3" r="6.3"/><circle cx="639.9" cy="551.7" r="6.3"/><circle cx="1463.9" cy="487.4" r="6.3"/><circle cx="1051.9" cy="423.8" r="6.3"/><circle cx="1053.8" cy="568.0" r="6.3"/><circle cx="1465.8" cy="369.3" r="6.3"/><circle cx="1452.7" cy="503.5" r="6.3"/><circle cx="1527.3" cy="507.5" r="6.3"/><circle cx="549.0" cy="503.5" r="6.3"/><circle cx="366.2" cy="503.5" r="6.3"/><circle cx="288.1" cy="503.5" r="6.3"/><circle cx="1020.4" cy="503.5" r="6.3"/><circle cx="1495.8" cy="507.0" r="6.3"/><circle cx="266.4" cy="507.0" r="6.3"/><circle cx="444.2" cy="504.3" r="6.3"/><circle cx="1111.8" cy="504.8" r="6.3"/><circle cx="1612.9" cy="504.8" r="6.3"/><circle cx="1814.4" cy="504.8" r="6.3"/><circle cx="458.9" cy="506.2" r="6.3"/><circle cx="278.5" cy="505.7" r="6.3"/><circle cx="674.6" cy="429.4" r="6.3"/><circle cx="572.9" cy="486.5" r="6.3"/><circle cx="579.6" cy="490.6" r="6.3"/><circle cx="662.6" cy="503.9" r="6.3"/><circle cx="667.4" cy="502.6" r="6.3"/><circle cx="644.6" cy="561.8" r="6.3"/>
</g>
<path d="M257.80 188.20v-18.8M257.80 826.00v18.8M302.55 188.20v-9.7M302.55 826.00v9.7M347.30 188.20v-9.7M347.30 826.00v9.7M392.05 188.20v-18.8M392.05 826.00v18.8M436.80 188.20v-9.7M436.80 826.00v9.7M481.55 188.20v-9.7M481.55 826.00v9.7M526.30 188.20v-18.8M526.30 826.00v18.8M571.05 188.20v-9.7M571.05 826.00v9.7M615.80 188.20v-9.7M615.80 826.00v9.7M660.55 188.20v-18.8M660.55 826.00v18.8M705.30 188.20v-9.7M705.30 826.00v9.7M750.05 188.20v-9.7M750.05 826.00v9.7M794.80 188.20v-18.8M794.80 826.00v18.8M839.55 188.20v-9.7M839.55 826.00v9.7M884.30 188.20v-9.7M884.30 826.00v9.7M929.05 188.20v-18.8M929.05 826.00v18.8M973.80 188.20v-9.7M973.80 826.00v9.7M1018.55 188.20v-9.7M1018.55 826.00v9.7M1063.30 188.20v-18.8M1063.30 826.00v18.8M1108.05 188.20v-9.7M1108.05 826.00v9.7M1152.80 188.20v-9.7M1152.80 826.00v9.7M1197.55 188.20v-18.8M1197.55 826.00v18.8M1242.30 188.20v-9.7M1242.30 826.00v9.7M1287.05 188.20v-9.7M1287.05 826.00v9.7M1331.80 188.20v-18.8M1331.80 826.00v18.8M1376.55 188.20v-9.7M1376.55 826.00v9.7M1421.30 188.20v-9.7M1421.30 826.00v9.7M1466.05 188.20v-18.8M1466.05 826.00v18.8M1510.80 188.20v-9.7M1510.80 826.00v9.7M1555.55 188.20v-9.7M1555.55 826.00v9.7M1600.30 188.20v-18.8M1600.30 826.00v18.8M1645.05 188.20v-9.7M1645.05 826.00v9.7M1689.80 188.20v-9.7M1689.80 826.00v9.7M1734.55 188.20v-18.8M1734.55 826.00v18.8M1779.30 188.20v-9.7M1779.30 826.00v9.7M1824.05 188.20v-9.7M1824.05 826.00v9.7M1868.80 188.20v-18.8M1868.80 826.00v18.8M226.0 791.91h-18.8M1883.7 791.91h18.8M226.0 692.99h-18.8M1883.7 692.99h18.8M226.0 594.07h-18.8M1883.7 594.07h18.8M226.0 495.15h-18.8M1883.7 495.15h18.8M226.0 396.23h-18.8M1883.7 396.23h18.8M226.0 297.31h-18.8M1883.7 297.31h18.8M226.0 198.39h-18.8M1883.7 198.39h18.8" stroke="#000" stroke-width="2.3" fill="none"/>
<rect x="226.0" y="188.2" width="1657.7" height="637.8" fill="none" stroke="#000" stroke-width="5.8"/>
<g fill="#0000ff">
<circle cx="475.8" cy="1163.9" r="6.3"/><circle cx="1273.6" cy="1164.4" r="6.3"/><circle cx="1712.3" cy="1164.4" r="6.3"/><circle cx="846.9" cy="1163.3" r="6.3"/><circle cx="392.1" cy="1161.7" r="6.3"/><circle cx="394.0" cy="1166.3" r="6.3"/><circle cx="1667.1" cy="1166.8" r="6.3"/><circle cx="827.9" cy="1167.6" r="6.3"/><circle cx="1705.6" cy="1167.9" r="6.3"/><circle cx="876.8" cy="1168.2" r="6.3"/><circle cx="1717.7" cy="1159.3" r="6.3"/><circle cx="886.2" cy="1159.3" r="6.3"/><circle cx="442.4" cy="1169.8" r="6.3"/><circle cx="384.6" cy="1158.0" r="6.3"/><circle cx="1266.1" cy="1170.3" r="6.3"/><circle cx="867.5" cy="1170.3" r="6.3"/><circle cx="1290.7" cy="1157.2" r="6.3"/><circle cx="895.3" cy="1156.1" r="6.3"/><circle cx="1640.9" cy="1172.2" r="6.3"/><circle cx="859.7" cy="1173.0" r="6.3"/><circle cx="1275.7" cy="1173.2" r="6.3"/><circle cx="1253.3" cy="1154.5" r="6.3"/><circle cx="1648.4" cy="1154.5" r="6.3"/><circle cx="485.1" cy="1173.8" r="6.3"/><circle cx="816.9" cy="1174.3" r="6.3"/><circle cx="1702.4" cy="1152.6" r="6.3"/><circle cx="446.9" cy="1151.8" r="6.3"/><circle cx="1201.4" cy="1176.4" r="6.3"/><circle cx="451.7" cy="1151.6" r="6.3"/><circle cx="865.6" cy="1177.2" r="6.3"/><circle cx="371.5" cy="1159.9" r="6.3"/><circle cx="1249.5" cy="1177.8" r="6.3"/><circle cx="1663.4" cy="1177.8" r="6.3"/><circle cx="869.1" cy="1149.2" r="6.3"/><circle cx="492.9" cy="1148.9" r="6.3"/><circle cx="1320.4" cy="1179.6" r="6.3"/><circle cx="818.8" cy="1180.4" r="6.3"/><circle cx="425.5" cy="1180.7" r="6.3"/><circle cx="1709.6" cy="1181.0" r="6.3"/><circle cx="1191.5" cy="1163.1" r="6.3"/><circle cx="399.6" cy="1146.5" r="6.3"/><circle cx="779.5" cy="1164.9" r="6.3"/><circle cx="1609.6" cy="1145.7" r="6.3"/><circle cx="1189.9" cy="1181.8" r="6.3"/><circle cx="839.4" cy="1144.4" r="6.3"/><circle cx="899.0" cy="1184.2" r="6.3"/><circle cx="1299.0" cy="1184.5" r="6.3"/><circle cx="1304.3" cy="1184.5" r="6.3"/><circle cx="1622.5" cy="1184.5" r="6.3"/><circle cx="376.9" cy="1185.0" r="6.3"/><circle cx="1600.0" cy="1185.3" r="6.3"/><circle cx="433.5" cy="1185.8" r="6.3"/><circle cx="1726.5" cy="1186.3" r="6.3"/><circle cx="917.2" cy="1186.9" r="6.3"/><circle cx="1672.7" cy="1187.1" r="6.3"/><circle cx="1232.7" cy="1140.3" r="6.3"/><circle cx="503.8" cy="1187.7" r="6.3"/><circle cx="920.9" cy="1172.4" r="6.3"/><circle cx="1637.4" cy="1188.5" r="6.3"/><circle cx="822.8" cy="1188.5" r="6.3"/><circle cx="1747.1" cy="1145.7" r="6.3"/><circle cx="1713.6" cy="1191.1" r="6.3"/><circle cx="1336.4" cy="1136.9" r="6.3"/><circle cx="1258.9" cy="1135.5" r="6.3"/><circle cx="356.5" cy="1153.4" r="6.3"/><circle cx="1300.3" cy="1193.0" r="6.3"/><circle cx="1741.7" cy="1135.0" r="6.3"/><circle cx="772.3" cy="1134.7" r="6.3"/><circle cx="845.0" cy="1193.3" r="6.3"/><circle cx="1654.0" cy="1134.5" r="6.3"/><circle cx="768.5" cy="1194.9" r="6.3"/><circle cx="1704.3" cy="1195.2" r="6.3"/><circle cx="928.9" cy="1173.8" r="6.3"/><circle cx="1752.9" cy="1191.9" r="6.3"/><circle cx="1588.5" cy="1187.7" r="6.3"/><circle cx="1180.8" cy="1197.0" r="6.3"/><circle cx="1680.2" cy="1128.3" r="6.3"/><circle cx="1732.9" cy="1199.7" r="6.3"/><circle cx="1633.4" cy="1200.0" r="6.3"/><circle cx="835.4" cy="1128.0" r="6.3"/><circle cx="1652.2" cy="1127.8" r="6.3"/><circle cx="1339.1" cy="1127.5" r="6.3"/><circle cx="1345.8" cy="1131.8" r="6.3"/><circle cx="405.2" cy="1127.2" r="6.3"/><circle cx="837.5" cy="1201.3" r="6.3"/><circle cx="1628.1" cy="1201.8" r="6.3"/><circle cx="893.7" cy="1201.8" r="6.3"/><circle cx="1170.6" cy="1200.0" r="6.3"/><circle cx="379.0" cy="1125.6" r="6.3"/><circle cx="902.5" cy="1202.4" r="6.3"/><circle cx="1347.9" cy="1200.5" r="6.3"/><circle cx="496.6" cy="1202.9" r="6.3"/><circle cx="1345.8" cy="1203.2" r="6.3"/><circle cx="1313.1" cy="1203.2" r="6.3"/><circle cx="829.5" cy="1203.2" r="6.3"/><circle cx="345.3" cy="1192.5" r="6.3"/><circle cx="1581.3" cy="1175.1" r="6.3"/><circle cx="1697.1" cy="1204.0" r="6.3"/><circle cx="923.6" cy="1204.0" r="6.3"/><circle cx="1708.0" cy="1123.8" r="6.3"/><circle cx="1723.0" cy="1204.5" r="6.3"/><circle cx="1762.3" cy="1143.8" r="6.3"/><circle cx="1167.4" cy="1122.4" r="6.3"/><circle cx="1685.6" cy="1122.4" r="6.3"/><circle cx="755.4" cy="1201.8" r="6.3"/><circle cx="1172.8" cy="1205.8" r="6.3"/><circle cx="788.9" cy="1205.8" r="6.3"/><circle cx="351.2" cy="1206.4" r="6.3"/><circle cx="822.8" cy="1206.4" r="6.3"/><circle cx="343.7" cy="1121.1" r="6.3"/><circle cx="1352.2" cy="1185.5" r="6.3"/><circle cx="940.2" cy="1146.2" r="6.3"/><circle cx="815.6" cy="1207.2" r="6.3"/><circle cx="891.0" cy="1207.2" r="6.3"/><circle cx="792.9" cy="1435.6" r="6.3"/><circle cx="1342.5" cy="1120.3" r="6.3"/><circle cx="766.7" cy="1208.0" r="6.3"/><circle cx="1301.6" cy="1208.5" r="6.3"/><circle cx="1626.2" cy="1208.5" r="6.3"/><circle cx="1576.0" cy="1165.7" r="6.3"/><circle cx="1678.1" cy="1209.1" r="6.3"/><circle cx="1715.5" cy="1209.9" r="6.3"/><circle cx="419.6" cy="1209.9" r="6.3"/><circle cx="1355.6" cy="1135.5" r="6.3"/><circle cx="513.2" cy="1211.2" r="6.3"/><circle cx="1161.3" cy="1191.1" r="6.3"/><circle cx="1618.7" cy="1211.7" r="6.3"/><circle cx="874.9" cy="1212.3" r="6.3"/><circle cx="1357.5" cy="1174.0" r="6.3"/><circle cx="1614.7" cy="1115.5" r="6.3"/><circle cx="1587.2" cy="1213.1" r="6.3"/><circle cx="1605.6" cy="1213.1" r="6.3"/><circle cx="440.5" cy="1213.1" r="6.3"/><circle cx="1646.8" cy="1213.3" r="6.3"/><circle cx="820.9" cy="1213.3" r="6.3"/><circle cx="1318.5" cy="1213.9" r="6.3"/><circle cx="947.1" cy="1198.4" r="6.3"/><circle cx="1683.7" cy="1214.4" r="6.3"/><circle cx="365.9" cy="1214.4" r="6.3"/><circle cx="334.3" cy="1161.2" r="6.3"/><circle cx="413.5" cy="1214.7" r="6.3"/><circle cx="900.9" cy="1214.7" r="6.3"/><circle cx="1158.1" cy="1200.5" r="6.3"/><circle cx="388.3" cy="1215.2" r="6.3"/><circle cx="914.0" cy="1215.2" r="6.3"/><circle cx="1693.1" cy="1112.5" r="6.3"/><circle cx="1283.2" cy="1216.5" r="6.3"/><circle cx="332.5" cy="1134.2" r="6.3"/><circle cx="494.8" cy="1216.5" r="6.3"/><circle cx="804.1" cy="1216.5" r="6.3"/><circle cx="354.9" cy="1110.9" r="6.3"/><circle cx="1251.4" cy="1110.4" r="6.3"/><circle cx="453.6" cy="1217.9" r="6.3"/><circle cx="863.7" cy="1425.1" r="6.3"/><circle cx="1363.1" cy="1121.9" r="6.3"/><circle cx="742.6" cy="1170.6" r="6.3"/><circle cx="1154.3" cy="1158.5" r="6.3"/><circle cx="1236.4" cy="1424.3" r="6.3"/><circle cx="1169.3" cy="1218.9" r="6.3"/><circle cx="1260.7" cy="1219.2" r="6.3"/><circle cx="1193.6" cy="1108.3" r="6.3"/><circle cx="930.5" cy="1219.7" r="6.3"/><circle cx="777.9" cy="1108.0" r="6.3"/><circle cx="953.3" cy="1193.8" r="6.3"/><circle cx="461.6" cy="1220.5" r="6.3"/><circle cx="848.7" cy="1220.8" r="6.3"/><circle cx="1570.1" cy="1106.7" r="6.3"/><circle cx="401.4" cy="1221.9" r="6.3"/><circle cx="1367.1" cy="1136.6" r="6.3"/><circle cx="1779.1" cy="1175.4" r="6.3"/><circle cx="326.6" cy="1218.9" r="6.3"/><circle cx="738.6" cy="1217.1" r="6.3"/><circle cx="1699.7" cy="1222.7" r="6.3"/><circle cx="955.9" cy="1221.9" r="6.3"/><circle cx="763.2" cy="1105.1" r="6.3"/><circle cx="1659.6" cy="1223.0" r="6.3"/><circle cx="352.8" cy="1223.0" r="6.3"/><circle cx="1693.6" cy="1223.2" r="6.3"/><circle cx="458.4" cy="1223.2" r="6.3"/><circle cx="878.4" cy="1223.2" r="6.3"/><circle cx="1719.0" cy="1223.5" r="6.3"/><circle cx="325.3" cy="1198.6" r="6.3"/><circle cx="1369.0" cy="1197.0" r="6.3"/><circle cx="1150.6" cy="1224.0" r="6.3"/><circle cx="1781.0" cy="1136.3" r="6.3"/><circle cx="1573.3" cy="1224.0" r="6.3"/><circle cx="545.0" cy="1202.6" r="6.3"/><circle cx="1206.7" cy="1224.8" r="6.3"/><circle cx="1182.1" cy="1225.1" r="6.3"/><circle cx="770.1" cy="1225.1" r="6.3"/><circle cx="1370.6" cy="1169.0" r="6.3"/><circle cx="1350.6" cy="1225.6" r="6.3"/><circle cx="958.6" cy="1151.0" r="6.3"/><circle cx="323.1" cy="1206.6" r="6.3"/><circle cx="1578.6" cy="1225.9" r="6.3"/><circle cx="1639.6" cy="1225.9" r="6.3"/><circle cx="421.8" cy="1225.9" r="6.3"/><circle cx="884.0" cy="1102.1" r="6.3"/><circle cx="539.9" cy="1226.4" r="6.3"/><circle cx="896.9" cy="1226.7" r="6.3"/><circle cx="908.4" cy="1226.7" r="6.3"/><circle cx="1359.1" cy="1227.0" r="6.3"/><circle cx="1784.5" cy="1210.4" r="6.3"/><circle cx="548.5" cy="1149.7" r="6.3"/><circle cx="547.2" cy="1227.8" r="6.3"/><circle cx="934.6" cy="1228.0" r="6.3"/><circle cx="1218.0" cy="1228.6" r="6.3"/><circle cx="1628.9" cy="1228.6" r="6.3"/><circle cx="1373.8" cy="1222.4" r="6.3"/><circle cx="961.8" cy="1203.2" r="6.3"/><circle cx="1324.4" cy="1229.1" r="6.3"/><circle cx="806.0" cy="1229.1" r="6.3"/><circle cx="962.4" cy="1156.9" r="6.3"/><circle cx="1583.4" cy="1229.4" r="6.3"/><circle cx="1634.8" cy="1229.4" r="6.3"/><circle cx="1176.8" cy="1098.1" r="6.3"/><circle cx="1555.1" cy="1149.7" r="6.3"/><circle cx="362.1" cy="1230.2" r="6.3"/><circle cx="1603.5" cy="1230.7" r="6.3"/><circle cx="552.2" cy="1142.0" r="6.3"/><circle cx="1376.5" cy="1217.9" r="6.3"/><circle cx="1257.0" cy="1231.5" r="6.3"/><circle cx="729.5" cy="1224.6" r="6.3"/><circle cx="402.8" cy="1231.8" r="6.3"/><circle cx="945.5" cy="1411.2" r="6.3"/><circle cx="438.3" cy="1232.0" r="6.3"/><circle cx="505.7" cy="1232.0" r="6.3"/><circle cx="1147.1" cy="1232.6" r="6.3"/><circle cx="1277.0" cy="1094.9" r="6.3"/><circle cx="1229.5" cy="1233.1" r="6.3"/><circle cx="382.7" cy="1233.1" r="6.3"/><circle cx="315.9" cy="1202.6" r="6.3"/><circle cx="1790.4" cy="1127.5" r="6.3"/><circle cx="477.6" cy="1233.4" r="6.3"/><circle cx="1139.4" cy="1167.3" r="6.3"/><circle cx="1733.7" cy="1093.6" r="6.3"/><circle cx="1616.9" cy="1234.5" r="6.3"/><circle cx="1775.1" cy="1234.5" r="6.3"/><circle cx="809.4" cy="1234.5" r="6.3"/><circle cx="1736.4" cy="1234.7" r="6.3"/><circle cx="964.5" cy="1234.7" r="6.3"/><circle cx="1792.0" cy="1183.4" r="6.3"/><circle cx="1550.0" cy="1194.6" r="6.3"/><circle cx="1137.8" cy="1212.8" r="6.3"/><circle cx="556.2" cy="1207.7" r="6.3"/><circle cx="725.8" cy="1208.5" r="6.3"/><circle cx="500.4" cy="1235.3" r="6.3"/><circle cx="1380.5" cy="1201.0" r="6.3"/><circle cx="968.5" cy="1198.4" r="6.3"/><circle cx="481.7" cy="1236.6" r="6.3"/><circle cx="776.0" cy="1236.6" r="6.3"/><circle cx="1793.8" cy="1167.1" r="6.3"/><circle cx="969.8" cy="1209.1" r="6.3"/><circle cx="1674.3" cy="1237.1" r="6.3"/><circle cx="349.3" cy="1090.9" r="6.3"/><circle cx="311.9" cy="1120.3" r="6.3"/><circle cx="1610.7" cy="1237.4" r="6.3"/><circle cx="941.8" cy="1237.4" r="6.3"/><circle cx="1547.4" cy="1220.5" r="6.3"/><circle cx="1214.0" cy="1405.1" r="6.3"/><circle cx="535.1" cy="1237.9" r="6.3"/><circle cx="802.2" cy="1238.5" r="6.3"/><circle cx="519.1" cy="1238.7" r="6.3"/><circle cx="431.1" cy="1404.3" r="6.3"/><circle cx="906.5" cy="1238.7" r="6.3"/><circle cx="1384.0" cy="1212.5" r="6.3"/><circle cx="1770.6" cy="1089.0" r="6.3"/><circle cx="1796.0" cy="1208.0" r="6.3"/><circle cx="310.0" cy="1227.5" r="6.3"/><circle cx="722.0" cy="1178.8" r="6.3"/><circle cx="1739.8" cy="1239.3" r="6.3"/><circle cx="784.8" cy="1239.3" r="6.3"/><circle cx="753.3" cy="1239.3" r="6.3"/><circle cx="369.4" cy="1239.8" r="6.3"/><circle cx="1219.3" cy="1240.1" r="6.3"/><circle cx="1596.8" cy="1240.1" r="6.3"/><circle cx="1621.4" cy="1240.1" r="6.3"/><circle cx="1767.1" cy="1087.7" r="6.3"/><circle cx="973.3" cy="1170.3" r="6.3"/><circle cx="1156.5" cy="1240.6" r="6.3"/><circle cx="1335.6" cy="1240.6" r="6.3"/><circle cx="537.8" cy="1240.6" r="6.3"/><circle cx="936.4" cy="1240.6" r="6.3"/><circle cx="720.4" cy="1213.3" r="6.3"/><circle cx="1385.9" cy="1224.6" r="6.3"/><circle cx="1543.9" cy="1196.5" r="6.3"/><circle cx="1590.7" cy="1241.9" r="6.3"/><circle cx="1387.2" cy="1109.9" r="6.3"/><circle cx="1234.8" cy="1242.5" r="6.3"/><circle cx="975.5" cy="1130.5" r="6.3"/><circle cx="1799.2" cy="1085.0" r="6.3"/><circle cx="306.0" cy="1216.5" r="6.3"/><circle cx="718.0" cy="1217.1" r="6.3"/><circle cx="367.5" cy="1243.3" r="6.3"/><circle cx="927.1" cy="1243.3" r="6.3"/><circle cx="558.9" cy="1243.5" r="6.3"/><circle cx="1227.3" cy="1084.2" r="6.3"/><circle cx="1204.6" cy="1399.2" r="6.3"/><circle cx="1568.5" cy="1084.2" r="6.3"/><circle cx="1166.1" cy="1244.1" r="6.3"/><circle cx="1743.3" cy="1398.9" r="6.3"/><circle cx="397.4" cy="1244.1" r="6.3"/><circle cx="565.1" cy="1154.0" r="6.3"/><circle cx="1389.3" cy="1147.8" r="6.3"/><circle cx="977.3" cy="1150.2" r="6.3"/><circle cx="716.7" cy="1200.5" r="6.3"/><circle cx="1128.4" cy="1244.3" r="6.3"/><circle cx="1216.6" cy="1398.4" r="6.3"/><circle cx="1540.4" cy="1138.2" r="6.3"/><circle cx="1624.9" cy="1244.6" r="6.3"/><circle cx="304.4" cy="1122.2" r="6.3"/><circle cx="880.3" cy="1245.1" r="6.3"/><circle cx="1372.5" cy="1245.4" r="6.3"/><circle cx="832.2" cy="1245.4" r="6.3"/><circle cx="1700.3" cy="1246.5" r="6.3"/><circle cx="302.5" cy="1187.9" r="6.3"/><circle cx="1279.5" cy="1246.7" r="6.3"/><circle cx="434.9" cy="1246.7" r="6.3"/><circle cx="811.6" cy="1246.7" r="6.3"/><circle cx="511.6" cy="1247.8" r="6.3"/><circle cx="888.3" cy="1247.8" r="6.3"/><circle cx="842.9" cy="1247.8" r="6.3"/><circle cx="408.9" cy="1394.9" r="6.3"/><circle cx="852.2" cy="1248.1" r="6.3"/><circle cx="981.1" cy="1179.1" r="6.3"/><circle cx="1559.1" cy="1248.6" r="6.3"/><circle cx="1797.9" cy="1248.6" r="6.3"/><circle cx="1286.4" cy="1248.9" r="6.3"/><circle cx="711.9" cy="1205.0" r="6.3"/><circle cx="299.3" cy="1191.1" r="6.3"/><circle cx="1394.9" cy="1088.5" r="6.3"/><circle cx="1806.9" cy="1183.4" r="6.3"/><circle cx="1354.0" cy="1250.0" r="6.3"/><circle cx="483.0" cy="1250.0" r="6.3"/><circle cx="858.4" cy="1250.0" r="6.3"/><circle cx="1687.7" cy="1250.5" r="6.3"/><circle cx="507.0" cy="1250.8" r="6.3"/><circle cx="740.7" cy="1250.8" r="6.3"/><circle cx="313.8" cy="1251.3" r="6.3"/><circle cx="1808.5" cy="1220.5" r="6.3"/><circle cx="984.5" cy="1216.5" r="6.3"/><circle cx="1307.3" cy="1076.2" r="6.3"/><circle cx="1396.8" cy="1173.0" r="6.3"/><circle cx="1689.6" cy="1076.2" r="6.3"/><circle cx="450.1" cy="1251.8" r="6.3"/><circle cx="1152.7" cy="1252.1" r="6.3"/><circle cx="437.0" cy="1252.1" r="6.3"/><circle cx="841.5" cy="1252.1" r="6.3"/><circle cx="296.6" cy="1127.8" r="6.3"/><circle cx="708.6" cy="1190.6" r="6.3"/><circle cx="1255.1" cy="1075.6" r="6.3"/><circle cx="411.3" cy="1390.6" r="6.3"/><circle cx="1377.3" cy="1252.6" r="6.3"/><circle cx="1601.9" cy="1252.6" r="6.3"/><circle cx="707.8" cy="1203.2" r="6.3"/><circle cx="1398.4" cy="1243.3" r="6.3"/><circle cx="1810.4" cy="1131.8" r="6.3"/><circle cx="416.2" cy="1389.6" r="6.3"/><circle cx="472.0" cy="1389.6" r="6.3"/><circle cx="783.5" cy="1253.4" r="6.3"/><circle cx="1123.1" cy="1074.3" r="6.3"/><circle cx="1585.3" cy="1254.0" r="6.3"/><circle cx="1760.4" cy="1254.0" r="6.3"/><circle cx="575.0" cy="1139.3" r="6.3"/><circle cx="295.0" cy="1242.2" r="6.3"/><circle cx="543.1" cy="1254.0" r="6.3"/><circle cx="734.6" cy="1254.0" r="6.3"/><circle cx="1333.7" cy="1254.2" r="6.3"/><circle cx="987.2" cy="1161.2" r="6.3"/><circle cx="1764.4" cy="1255.3" r="6.3"/><circle cx="798.5" cy="1255.3" r="6.3"/><circle cx="1400.6" cy="1235.3" r="6.3"/><circle cx="1812.6" cy="1123.2" r="6.3"/><circle cx="723.9" cy="1072.4" r="6.3"/><circle cx="293.4" cy="1110.7" r="6.3"/><circle cx="988.6" cy="1239.8" r="6.3"/><circle cx="1117.2" cy="1173.8" r="6.3"/><circle cx="1381.8" cy="1255.8" r="6.3"/><circle cx="1392.0" cy="1255.8" r="6.3"/><circle cx="1529.2" cy="1218.7" r="6.3"/><circle cx="373.4" cy="1255.8" r="6.3"/><circle cx="337.8" cy="1387.2" r="6.3"/><circle cx="705.2" cy="1167.9" r="6.3"/><circle cx="949.3" cy="1255.8" r="6.3"/><circle cx="1340.9" cy="1256.1" r="6.3"/><circle cx="1240.4" cy="1256.6" r="6.3"/><circle cx="1246.3" cy="1256.6" r="6.3"/><circle cx="1560.7" cy="1071.4" r="6.3"/><circle cx="358.1" cy="1256.6" r="6.3"/><circle cx="1212.1" cy="1256.9" r="6.3"/><circle cx="578.4" cy="1196.0" r="6.3"/><circle cx="1814.4" cy="1079.1" r="6.3"/><circle cx="938.3" cy="1257.4" r="6.3"/><circle cx="291.3" cy="1204.0" r="6.3"/><circle cx="1115.3" cy="1151.3" r="6.3"/><circle cx="1527.3" cy="1190.1" r="6.3"/><circle cx="1642.8" cy="1258.0" r="6.3"/><circle cx="759.2" cy="1070.0" r="6.3"/><circle cx="982.9" cy="1258.0" r="6.3"/><circle cx="991.2" cy="1217.9" r="6.3"/><circle cx="1322.2" cy="1258.5" r="6.3"/><circle cx="429.5" cy="1258.5" r="6.3"/><circle cx="1114.0" cy="1255.3" r="6.3"/><circle cx="1525.7" cy="1143.8" r="6.3"/><circle cx="1816.3" cy="1399.2" r="6.3"/><circle cx="531.6" cy="1259.3" r="6.3"/><circle cx="1404.6" cy="1105.1" r="6.3"/><circle cx="992.6" cy="1180.4" r="6.3"/><circle cx="289.2" cy="1222.7" r="6.3"/><circle cx="1656.2" cy="1260.7" r="6.3"/><circle cx="1598.1" cy="1260.7" r="6.3"/><circle cx="1730.5" cy="1260.7" r="6.3"/><circle cx="581.9" cy="1181.8" r="6.3"/><circle cx="1818.2" cy="1109.1" r="6.3"/><circle cx="994.4" cy="1225.9" r="6.3"/><circle cx="1406.4" cy="1222.4" r="6.3"/><circle cx="1111.6" cy="1393.1" r="6.3"/><circle cx="774.1" cy="1261.5" r="6.3"/><circle cx="1315.0" cy="1262.0" r="6.3"/><circle cx="1195.2" cy="1262.0" r="6.3"/><circle cx="287.0" cy="1193.8" r="6.3"/><circle cx="1523.6" cy="1065.8" r="6.3"/><circle cx="583.2" cy="1178.3" r="6.3"/><circle cx="414.3" cy="1262.3" r="6.3"/><circle cx="1631.6" cy="1262.5" r="6.3"/><circle cx="1407.8" cy="1188.5" r="6.3"/><circle cx="995.8" cy="1175.6" r="6.3"/><circle cx="1110.0" cy="1163.6" r="6.3"/><circle cx="1820.0" cy="1173.5" r="6.3"/><circle cx="1522.0" cy="1235.3" r="6.3"/><circle cx="286.0" cy="1109.3" r="6.3"/><circle cx="1644.9" cy="1263.3" r="6.3"/><circle cx="360.3" cy="1263.3" r="6.3"/><circle cx="697.7" cy="1248.1" r="6.3"/><circle cx="571.2" cy="1263.6" r="6.3"/><circle cx="850.3" cy="1263.6" r="6.3"/><circle cx="1242.3" cy="1064.2" r="6.3"/><circle cx="1691.5" cy="1263.9" r="6.3"/><circle cx="1311.0" cy="1264.1" r="6.3"/><circle cx="1785.8" cy="1063.6" r="6.3"/><circle cx="569.1" cy="1378.4" r="6.3"/><circle cx="813.2" cy="1264.7" r="6.3"/><circle cx="585.9" cy="1261.5" r="6.3"/><circle cx="997.9" cy="1237.4" r="6.3"/><circle cx="1409.9" cy="1111.7" r="6.3"/><circle cx="1520.1" cy="1398.4" r="6.3"/><circle cx="283.8" cy="1187.1" r="6.3"/><circle cx="1119.0" cy="1265.2" r="6.3"/><circle cx="1650.8" cy="1265.2" r="6.3"/><circle cx="1135.9" cy="1376.7" r="6.3"/><circle cx="1803.2" cy="1266.3" r="6.3"/><circle cx="1788.5" cy="1061.5" r="6.3"/><circle cx="999.5" cy="1147.6" r="6.3"/><circle cx="1411.8" cy="1255.8" r="6.3"/><circle cx="1823.8" cy="1240.6" r="6.3"/><circle cx="587.8" cy="1065.8" r="6.3"/><circle cx="281.9" cy="1134.7" r="6.3"/><circle cx="693.9" cy="1183.1" r="6.3"/><circle cx="1262.3" cy="1267.3" r="6.3"/><circle cx="1292.3" cy="1267.3" r="6.3"/><circle cx="1105.1" cy="1163.6" r="6.3"/><circle cx="529.8" cy="1267.9" r="6.3"/><circle cx="915.8" cy="1268.1" r="6.3"/><circle cx="280.6" cy="1248.1" r="6.3"/><circle cx="1210.2" cy="1374.3" r="6.3"/><circle cx="1516.3" cy="1155.6" r="6.3"/><circle cx="1725.7" cy="1268.7" r="6.3"/><circle cx="444.2" cy="1268.7" r="6.3"/><circle cx="692.3" cy="1133.4" r="6.3"/><circle cx="589.9" cy="1264.7" r="6.3"/><circle cx="1001.9" cy="1213.9" r="6.3"/><circle cx="1801.3" cy="1058.8" r="6.3"/><circle cx="1243.6" cy="1269.5" r="6.3"/><circle cx="1402.4" cy="1269.5" r="6.3"/><circle cx="524.4" cy="1373.5" r="6.3"/><circle cx="1572.2" cy="1373.3" r="6.3"/><circle cx="550.4" cy="1269.7" r="6.3"/><circle cx="854.4" cy="1373.3" r="6.3"/><circle cx="1148.7" cy="1270.0" r="6.3"/><circle cx="1821.9" cy="1270.0" r="6.3"/><circle cx="572.5" cy="1373.0" r="6.3"/><circle cx="702.0" cy="1270.0" r="6.3"/><circle cx="1827.3" cy="1209.1" r="6.3"/><circle cx="714.5" cy="1057.7" r="6.3"/><circle cx="1102.5" cy="1254.8" r="6.3"/><circle cx="1566.6" cy="1270.5" r="6.3"/><circle cx="591.5" cy="1389.3" r="6.3"/><circle cx="1003.5" cy="1259.3" r="6.3"/><circle cx="690.5" cy="1269.5" r="6.3"/><circle cx="1188.0" cy="1270.8" r="6.3"/><circle cx="1514.2" cy="1429.4" r="6.3"/><circle cx="689.7" cy="1209.1" r="6.3"/><circle cx="277.7" cy="1163.1" r="6.3"/><circle cx="1202.7" cy="1272.1" r="6.3"/><circle cx="341.8" cy="1272.1" r="6.3"/><circle cx="593.4" cy="1187.4" r="6.3"/><circle cx="1417.4" cy="1197.8" r="6.3"/><circle cx="1100.6" cy="1272.1" r="6.3"/><circle cx="1512.6" cy="1203.2" r="6.3"/><circle cx="1829.4" cy="1374.1" r="6.3"/><circle cx="920.4" cy="1272.7" r="6.3"/><circle cx="1005.9" cy="1211.2" r="6.3"/><circle cx="474.2" cy="1369.8" r="6.3"/><circle cx="1607.5" cy="1273.5" r="6.3"/><circle cx="1288.8" cy="1369.3" r="6.3"/><circle cx="1181.9" cy="1274.0" r="6.3"/><circle cx="1562.1" cy="1274.0" r="6.3"/><circle cx="308.1" cy="1274.0" r="6.3"/><circle cx="800.3" cy="1274.0" r="6.3"/><circle cx="1419.3" cy="1169.8" r="6.3"/><circle cx="1593.9" cy="1274.3" r="6.3"/><circle cx="595.3" cy="1518.2" r="6.3"/><circle cx="1098.5" cy="1186.6" r="6.3"/><circle cx="1510.5" cy="1233.4" r="6.3"/><circle cx="274.5" cy="1183.1" r="6.3"/><circle cx="563.2" cy="1368.5" r="6.3"/><circle cx="686.5" cy="1178.6" r="6.3"/><circle cx="1230.8" cy="1367.9" r="6.3"/><circle cx="1164.0" cy="1275.4" r="6.3"/><circle cx="1720.9" cy="1275.4" r="6.3"/><circle cx="407.3" cy="1275.4" r="6.3"/><circle cx="889.9" cy="1052.4" r="6.3"/><circle cx="943.6" cy="1367.4" r="6.3"/><circle cx="273.1" cy="1246.5" r="6.3"/><circle cx="685.1" cy="1207.2" r="6.3"/><circle cx="1325.7" cy="1275.9" r="6.3"/><circle cx="1330.5" cy="1275.9" r="6.3"/><circle cx="1728.6" cy="1052.1" r="6.3"/><circle cx="1833.1" cy="1248.1" r="6.3"/><circle cx="1508.6" cy="1140.1" r="6.3"/><circle cx="576.6" cy="1276.7" r="6.3"/><circle cx="861.6" cy="1276.7" r="6.3"/><circle cx="1271.7" cy="1277.2" r="6.3"/><circle cx="1748.9" cy="1277.2" r="6.3"/><circle cx="1209.4" cy="1277.5" r="6.3"/><circle cx="1365.3" cy="1277.5" r="6.3"/><circle cx="787.2" cy="1277.5" r="6.3"/><circle cx="1422.7" cy="1151.0" r="6.3"/><circle cx="1834.7" cy="1202.4" r="6.3"/><circle cx="598.7" cy="1425.4" r="6.3"/><circle cx="1095.0" cy="1221.9" r="6.3"/><circle cx="1507.0" cy="1268.7" r="6.3"/><circle cx="1613.4" cy="1278.0" r="6.3"/><circle cx="683.0" cy="1250.0" r="6.3"/><circle cx="695.8" cy="1278.0" r="6.3"/><circle cx="1011.3" cy="1270.5" r="6.3"/><circle cx="1104.6" cy="1278.6" r="6.3"/><circle cx="1556.7" cy="1278.6" r="6.3"/><circle cx="427.4" cy="1278.6" r="6.3"/><circle cx="270.4" cy="1191.1" r="6.3"/><circle cx="1755.1" cy="1279.4" r="6.3"/><circle cx="340.0" cy="1279.4" r="6.3"/><circle cx="911.8" cy="1279.4" r="6.3"/><circle cx="1424.6" cy="1074.3" r="6.3"/><circle cx="1836.6" cy="1103.5" r="6.3"/><circle cx="1012.6" cy="1210.4" r="6.3"/><circle cx="269.1" cy="1175.1" r="6.3"/><circle cx="681.1" cy="1211.2" r="6.3"/><circle cx="1009.1" cy="1279.9" r="6.3"/><circle cx="1221.4" cy="1280.2" r="6.3"/><circle cx="1805.1" cy="1047.6" r="6.3"/><circle cx="1504.6" cy="1258.8" r="6.3"/><circle cx="267.8" cy="1179.6" r="6.3"/><circle cx="1091.8" cy="1181.8" r="6.3"/><circle cx="1426.5" cy="1110.1" r="6.3"/><circle cx="1014.5" cy="1226.2" r="6.3"/><circle cx="1838.8" cy="1145.2" r="6.3"/><circle cx="1131.9" cy="1282.0" r="6.3"/><circle cx="1503.0" cy="1198.4" r="6.3"/><circle cx="1661.5" cy="1282.0" r="6.3"/><circle cx="468.3" cy="1282.0" r="6.3"/><circle cx="932.4" cy="1045.7" r="6.3"/><circle cx="1305.7" cy="1282.6" r="6.3"/><circle cx="487.5" cy="1282.6" r="6.3"/><circle cx="520.7" cy="1282.6" r="6.3"/><circle cx="535.7" cy="1282.6" r="6.3"/><circle cx="515.1" cy="1360.4" r="6.3"/><circle cx="1428.4" cy="1125.1" r="6.3"/><circle cx="580.6" cy="1283.4" r="6.3"/><circle cx="1840.6" cy="1175.6" r="6.3"/><circle cx="604.6" cy="1169.0" r="6.3"/><circle cx="265.1" cy="1253.7" r="6.3"/><circle cx="678.4" cy="1283.9" r="6.3"/><circle cx="317.8" cy="1284.2" r="6.3"/><circle cx="1159.9" cy="1284.7" r="6.3"/><circle cx="1093.1" cy="1284.7" r="6.3"/><circle cx="1294.2" cy="1284.7" r="6.3"/><circle cx="602.0" cy="1284.7" r="6.3"/><circle cx="1842.0" cy="1151.8" r="6.3"/><circle cx="1532.6" cy="1285.2" r="6.3"/><circle cx="904.3" cy="1285.5" r="6.3"/><circle cx="1087.2" cy="1165.5" r="6.3"/><circle cx="1499.2" cy="1236.6" r="6.3"/><circle cx="466.4" cy="1357.2" r="6.3"/><circle cx="675.2" cy="1415.5" r="6.3"/><circle cx="263.2" cy="1160.1" r="6.3"/><circle cx="1393.1" cy="1042.0" r="6.3"/><circle cx="479.8" cy="1286.0" r="6.3"/><circle cx="1431.3" cy="1179.1" r="6.3"/><circle cx="1758.6" cy="1286.6" r="6.3"/><circle cx="1669.0" cy="1356.2" r="6.3"/><circle cx="607.8" cy="1283.9" r="6.3"/><circle cx="330.6" cy="1286.9" r="6.3"/><circle cx="1844.1" cy="1269.5" r="6.3"/><circle cx="1020.1" cy="1160.4" r="6.3"/><circle cx="673.6" cy="1284.7" r="6.3"/><circle cx="1085.6" cy="1264.7" r="6.3"/><circle cx="1198.2" cy="1287.4" r="6.3"/><circle cx="1497.6" cy="1283.9" r="6.3"/><circle cx="501.7" cy="1287.4" r="6.3"/><circle cx="744.5" cy="1355.6" r="6.3"/><circle cx="1124.7" cy="1355.4" r="6.3"/><circle cx="261.1" cy="1191.9" r="6.3"/><circle cx="1096.6" cy="1287.9" r="6.3"/><circle cx="979.2" cy="1287.9" r="6.3"/><circle cx="1434.0" cy="1139.5" r="6.3"/><circle cx="1657.8" cy="1039.0" r="6.3"/><circle cx="1846.0" cy="1235.3" r="6.3"/><circle cx="1022.0" cy="1286.0" r="6.3"/><circle cx="951.4" cy="1289.0" r="6.3"/><circle cx="1083.8" cy="1209.9" r="6.3"/><circle cx="1331.6" cy="1353.8" r="6.3"/><circle cx="1495.8" cy="1148.9" r="6.3"/><circle cx="671.8" cy="1163.6" r="6.3"/><circle cx="1285.1" cy="1290.1" r="6.3"/><circle cx="1665.5" cy="1290.1" r="6.3"/><circle cx="699.6" cy="1290.1" r="6.3"/><circle cx="1023.3" cy="1270.0" r="6.3"/><circle cx="1082.4" cy="1256.6" r="6.3"/><circle cx="1223.6" cy="1290.6" r="6.3"/><circle cx="1534.8" cy="1352.4" r="6.3"/><circle cx="750.1" cy="1290.6" r="6.3"/><circle cx="1435.8" cy="1262.0" r="6.3"/><circle cx="1847.8" cy="1149.7" r="6.3"/><circle cx="1143.1" cy="1290.9" r="6.3"/><circle cx="1553.2" cy="1290.9" r="6.3"/><circle cx="1016.1" cy="1290.9" r="6.3"/><circle cx="1493.9" cy="1271.3" r="6.3"/><circle cx="612.1" cy="1080.2" r="6.3"/><circle cx="1126.5" cy="1291.4" r="6.3"/><circle cx="1531.0" cy="1291.4" r="6.3"/><circle cx="364.0" cy="1291.4" r="6.3"/><circle cx="554.4" cy="1291.4" r="6.3"/><circle cx="597.1" cy="1035.8" r="6.3"/><circle cx="1501.4" cy="1350.5" r="6.3"/><circle cx="1025.5" cy="1262.0" r="6.3"/><circle cx="498.2" cy="1292.7" r="6.3"/><circle cx="668.3" cy="1213.9" r="6.3"/><circle cx="712.7" cy="1292.7" r="6.3"/><circle cx="733.2" cy="1350.3" r="6.3"/><circle cx="1438.0" cy="1175.9" r="6.3"/><circle cx="1850.0" cy="1238.5" r="6.3"/><circle cx="614.0" cy="1282.0" r="6.3"/><circle cx="1079.7" cy="1213.3" r="6.3"/><circle cx="1491.7" cy="1234.7" r="6.3"/><circle cx="791.0" cy="1349.7" r="6.3"/><circle cx="1107.8" cy="1293.5" r="6.3"/><circle cx="1225.2" cy="1349.5" r="6.3"/><circle cx="834.3" cy="1293.5" r="6.3"/><circle cx="257.9" cy="1349.2" r="6.3"/><circle cx="1296.3" cy="1294.1" r="6.3"/><circle cx="375.5" cy="1294.1" r="6.3"/><circle cx="464.8" cy="1348.9" r="6.3"/><circle cx="526.3" cy="1348.9" r="6.3"/><circle cx="882.4" cy="1294.1" r="6.3"/><circle cx="1439.3" cy="1247.8" r="6.3"/><circle cx="1078.4" cy="1281.2" r="6.3"/><circle cx="745.8" cy="1294.6" r="6.3"/><circle cx="752.0" cy="1348.4" r="6.3"/><circle cx="1175.2" cy="1294.9" r="6.3"/><circle cx="1027.9" cy="1227.5" r="6.3"/><circle cx="1489.9" cy="1374.6" r="6.3"/><circle cx="386.5" cy="1347.9" r="6.3"/><circle cx="665.9" cy="1210.7" r="6.3"/><circle cx="764.8" cy="1295.4" r="6.3"/><circle cx="871.2" cy="1347.6" r="6.3"/><circle cx="1077.1" cy="1252.6" r="6.3"/><circle cx="328.7" cy="1295.9" r="6.3"/><circle cx="1238.3" cy="1296.2" r="6.3"/><circle cx="826.3" cy="1296.2" r="6.3"/><circle cx="796.6" cy="1296.2" r="6.3"/><circle cx="617.5" cy="1187.7" r="6.3"/><circle cx="1029.5" cy="1216.5" r="6.3"/><circle cx="1517.9" cy="1296.7" r="6.3"/><circle cx="610.2" cy="1031.3" r="6.3"/><circle cx="423.6" cy="1296.7" r="6.3"/><circle cx="679.0" cy="1346.3" r="6.3"/><circle cx="1442.0" cy="1241.9" r="6.3"/><circle cx="1316.9" cy="1345.7" r="6.3"/><circle cx="1487.7" cy="1293.3" r="6.3"/><circle cx="781.6" cy="1297.3" r="6.3"/><circle cx="1486.9" cy="1181.8" r="6.3"/><circle cx="1443.3" cy="1266.8" r="6.3"/><circle cx="1756.4" cy="1344.7" r="6.3"/><circle cx="1031.3" cy="1182.6" r="6.3"/><circle cx="662.4" cy="1280.7" r="6.3"/><circle cx="619.9" cy="1175.4" r="6.3"/><circle cx="1073.9" cy="1217.9" r="6.3"/><circle cx="731.1" cy="1343.9" r="6.3"/><circle cx="561.9" cy="1299.4" r="6.3"/><circle cx="488.9" cy="1343.1" r="6.3"/><circle cx="1415.3" cy="1300.0" r="6.3"/><circle cx="1773.8" cy="1300.0" r="6.3"/><circle cx="1445.5" cy="1191.9" r="6.3"/><circle cx="1072.5" cy="1285.5" r="6.3"/><circle cx="1308.9" cy="1342.5" r="6.3"/><circle cx="1484.5" cy="1287.4" r="6.3"/><circle cx="621.5" cy="1243.3" r="6.3"/><circle cx="1033.5" cy="1132.1" r="6.3"/><circle cx="669.9" cy="1301.0" r="6.3"/><circle cx="1071.7" cy="1248.6" r="6.3"/><circle cx="1089.1" cy="1301.3" r="6.3"/><circle cx="664.0" cy="1341.7" r="6.3"/><circle cx="1670.9" cy="1301.6" r="6.3"/><circle cx="347.4" cy="1302.1" r="6.3"/><circle cx="761.3" cy="1340.9" r="6.3"/><circle cx="1447.3" cy="1202.6" r="6.3"/><circle cx="623.3" cy="1263.9" r="6.3"/><circle cx="1035.3" cy="1094.9" r="6.3"/><circle cx="1130.0" cy="1302.6" r="6.3"/><circle cx="1482.4" cy="1215.2" r="6.3"/><circle cx="658.4" cy="1186.6" r="6.3"/><circle cx="1825.4" cy="1339.9" r="6.3"/><circle cx="1777.8" cy="1303.4" r="6.3"/><circle cx="1551.4" cy="1303.4" r="6.3"/><circle cx="567.2" cy="1339.6" r="6.3"/><circle cx="1449.2" cy="1210.7" r="6.3"/><circle cx="625.2" cy="1233.1" r="6.3"/><circle cx="527.9" cy="1304.2" r="6.3"/><circle cx="1037.2" cy="1269.5" r="6.3"/><circle cx="1068.5" cy="1229.9" r="6.3"/><circle cx="1480.5" cy="1150.5" r="6.3"/><circle cx="656.5" cy="1466.3" r="6.3"/><circle cx="470.4" cy="1338.2" r="6.3"/><circle cx="509.5" cy="1338.2" r="6.3"/><circle cx="615.6" cy="1305.3" r="6.3"/><circle cx="794.7" cy="1337.7" r="6.3"/><circle cx="1450.8" cy="1368.7" r="6.3"/><circle cx="626.8" cy="1205.8" r="6.3"/><circle cx="1038.8" cy="1187.1" r="6.3"/><circle cx="1066.9" cy="1183.9" r="6.3"/><circle cx="1478.9" cy="1188.5" r="6.3"/><circle cx="748.2" cy="1336.9" r="6.3"/><circle cx="1538.5" cy="1335.8" r="6.3"/><circle cx="1592.5" cy="1335.8" r="6.3"/><circle cx="1186.1" cy="1307.4" r="6.3"/><circle cx="910.2" cy="1307.4" r="6.3"/><circle cx="1452.7" cy="1231.8" r="6.3"/><circle cx="628.7" cy="1215.2" r="6.3"/><circle cx="1040.7" cy="1161.7" r="6.3"/><circle cx="1065.0" cy="1241.4" r="6.3"/><circle cx="1477.0" cy="1292.7" r="6.3"/><circle cx="807.8" cy="1308.0" r="6.3"/><circle cx="653.0" cy="1439.3" r="6.3"/><circle cx="1141.5" cy="1308.2" r="6.3"/><circle cx="1676.2" cy="1308.8" r="6.3"/><circle cx="490.5" cy="1308.8" r="6.3"/><circle cx="1063.7" cy="1307.4" r="6.3"/><circle cx="1454.6" cy="1165.2" r="6.3"/><circle cx="1120.6" cy="1309.6" r="6.3"/><circle cx="1264.5" cy="1309.6" r="6.3"/><circle cx="1042.6" cy="1306.6" r="6.3"/><circle cx="1007.3" cy="1309.6" r="6.3"/><circle cx="630.6" cy="1278.0" r="6.3"/><circle cx="1475.2" cy="1344.1" r="6.3"/><circle cx="462.9" cy="1333.2" r="6.3"/><circle cx="1771.7" cy="1332.9" r="6.3"/><circle cx="650.9" cy="1284.2" r="6.3"/><circle cx="390.2" cy="1310.6" r="6.3"/><circle cx="703.3" cy="1332.4" r="6.3"/><circle cx="873.1" cy="1332.4" r="6.3"/><circle cx="1546.0" cy="1331.8" r="6.3"/><circle cx="661.1" cy="1331.8" r="6.3"/><circle cx="966.1" cy="1331.6" r="6.3"/><circle cx="1044.4" cy="1337.2" r="6.3"/><circle cx="1145.2" cy="1016.3" r="6.3"/><circle cx="1456.7" cy="1195.7" r="6.3"/><circle cx="1473.3" cy="1224.6" r="6.3"/><circle cx="856.2" cy="1331.3" r="6.3"/><circle cx="649.3" cy="1396.5" r="6.3"/><circle cx="1061.0" cy="1262.8" r="6.3"/><circle cx="727.6" cy="1312.0" r="6.3"/><circle cx="1851.6" cy="1330.2" r="6.3"/><circle cx="1458.0" cy="1229.1" r="6.3"/><circle cx="634.0" cy="1165.2" r="6.3"/><circle cx="1471.7" cy="1175.4" r="6.3"/><circle cx="647.7" cy="1242.7" r="6.3"/><circle cx="972.0" cy="1313.3" r="6.3"/><circle cx="654.6" cy="1329.7" r="6.3"/><circle cx="396.1" cy="1313.6" r="6.3"/><circle cx="1058.9" cy="1300.8" r="6.3"/><circle cx="1361.3" cy="1314.1" r="6.3"/><circle cx="1831.3" cy="1328.9" r="6.3"/><circle cx="606.2" cy="1629.1" r="6.3"/><circle cx="1047.4" cy="1159.1" r="6.3"/><circle cx="646.4" cy="1183.9" r="6.3"/><circle cx="1413.4" cy="1314.7" r="6.3"/><circle cx="1460.2" cy="1109.3" r="6.3"/><circle cx="516.9" cy="1327.8" r="6.3"/><circle cx="1048.2" cy="1195.4" r="6.3"/><circle cx="1057.6" cy="1354.0" r="6.3"/><circle cx="1469.6" cy="1251.8" r="6.3"/><circle cx="1765.8" cy="1327.6" r="6.3"/><circle cx="321.8" cy="1327.6" r="6.3"/><circle cx="1281.1" cy="1315.5" r="6.3"/><circle cx="636.7" cy="1181.3" r="6.3"/><circle cx="455.5" cy="1316.3" r="6.3"/><circle cx="318.6" cy="1326.5" r="6.3"/><circle cx="1134.0" cy="1326.2" r="6.3"/><circle cx="1462.0" cy="1125.9" r="6.3"/><circle cx="638.0" cy="1196.5" r="6.3"/><circle cx="1055.7" cy="1263.9" r="6.3"/><circle cx="1467.7" cy="1134.2" r="6.3"/><circle cx="1579.4" cy="1317.3" r="6.3"/><circle cx="1745.2" cy="1317.3" r="6.3"/><circle cx="643.7" cy="1292.7" r="6.3"/><circle cx="757.3" cy="1325.7" r="6.3"/><circle cx="1327.8" cy="1317.6" r="6.3"/><circle cx="1463.4" cy="1145.7" r="6.3"/><circle cx="1054.3" cy="1141.4" r="6.3"/><circle cx="523.1" cy="1324.3" r="6.3"/><circle cx="600.6" cy="1324.3" r="6.3"/><circle cx="925.2" cy="1324.3" r="6.3"/><circle cx="639.9" cy="1266.0" r="6.3"/><circle cx="1051.9" cy="1239.8" r="6.3"/><circle cx="1268.2" cy="1323.8" r="6.3"/><circle cx="1465.8" cy="1283.9" r="6.3"/><circle cx="1536.7" cy="1323.8" r="6.3"/><circle cx="1751.1" cy="1323.8" r="6.3"/><circle cx="1421.9" cy="1319.5" r="6.3"/><circle cx="1542.5" cy="1319.5" r="6.3"/><circle cx="1782.6" cy="1319.5" r="6.3"/><circle cx="380.9" cy="1323.5" r="6.3"/><circle cx="1018.2" cy="1323.5" r="6.3"/><circle cx="641.0" cy="1191.1" r="6.3"/><circle cx="736.7" cy="1323.0" r="6.3"/><circle cx="1682.1" cy="1322.5" r="6.3"/><circle cx="336.2" cy="1322.5" r="6.3"/><circle cx="1247.6" cy="1320.8" r="6.3"/><circle cx="541.3" cy="1320.8" r="6.3"/><circle cx="1050.3" cy="1265.5" r="6.3"/><circle cx="1177.4" cy="1276.6" r="6.3"/><circle cx="1201.1" cy="1286.9" r="6.3"/>
</g>
<path d="M257.80 1004.00v-18.8M257.80 1641.80v18.8M302.55 1004.00v-9.7M302.55 1641.80v9.7M347.30 1004.00v-9.7M347.30 1641.80v9.7M392.05 1004.00v-18.8M392.05 1641.80v18.8M436.80 1004.00v-9.7M436.80 1641.80v9.7M481.55 1004.00v-9.7M481.55 1641.80v9.7M526.30 1004.00v-18.8M526.30 1641.80v18.8M571.05 1004.00v-9.7M571.05 1641.80v9.7M615.80 1004.00v-9.7M615.80 1641.80v9.7M660.55 1004.00v-18.8M660.55 1641.80v18.8M705.30 1004.00v-9.7M705.30 1641.80v9.7M750.05 1004.00v-9.7M750.05 1641.80v9.7M794.80 1004.00v-18.8M794.80 1641.80v18.8M839.55 1004.00v-9.7M839.55 1641.80v9.7M884.30 1004.00v-9.7M884.30 1641.80v9.7M929.05 1004.00v-18.8M929.05 1641.80v18.8M973.80 1004.00v-9.7M973.80 1641.80v9.7M1018.55 1004.00v-9.7M1018.55 1641.80v9.7M1063.30 1004.00v-18.8M1063.30 1641.80v18.8M1108.05 1004.00v-9.7M1108.05 1641.80v9.7M1152.80 1004.00v-9.7M1152.80 1641.80v9.7M1197.55 1004.00v-18.8M1197.55 1641.80v18.8M1242.30 1004.00v-9.7M1242.30 1641.80v9.7M1287.05 1004.00v-9.7M1287.05 1641.80v9.7M1331.80 1004.00v-18.8M1331.80 1641.80v18.8M1376.55 1004.00v-9.7M1376.55 1641.80v9.7M1421.30 1004.00v-9.7M1421.30 1641.80v9.7M1466.05 1004.00v-18.8M1466.05 1641.80v18.8M1510.80 1004.00v-9.7M1510.80 1641.80v9.7M1555.55 1004.00v-9.7M1555.55 1641.80v9.7M1600.30 1004.00v-18.8M1600.30 1641.80v18.8M1645.05 1004.00v-9.7M1645.05 1641.80v9.7M1689.80 1004.00v-9.7M1689.80 1641.80v9.7M1734.55 1004.00v-18.8M1734.55 1641.80v18.8M1779.30 1004.00v-9.7M1779.30 1641.80v9.7M1824.05 1004.00v-9.7M1824.05 1641.80v9.7M1868.80 1004.00v-18.8M1868.80 1641.80v18.8M226.0 1616.41h-18.8M1883.7 1616.41h18.8M226.0 1482.83h-18.8M1883.7 1482.83h18.8M226.0 1349.25h-18.8M1883.7 1349.25h18.8M226.0 1215.67h-18.8M1883.7 1215.67h18.8M226.0 1082.09h-18.8M1883.7 1082.09h18.8" stroke="#000" stroke-width="2.3" fill="none"/>
<rect x="226.0" y="1004.0" width="1657.7" height="637.8" fill="none" stroke="#000" stroke-width="5.8"/>
<g fill="#0000ff">
<circle cx="388.3" cy="1980.1" r="6.3"/><circle cx="1640.9" cy="1979.3" r="6.3"/><circle cx="886.2" cy="2293.5" r="6.3"/><circle cx="408.9" cy="1981.7" r="6.3"/><circle cx="1684.0" cy="1976.4" r="6.3"/><circle cx="1663.4" cy="1976.4" r="6.3"/><circle cx="793.1" cy="1977.5" r="6.3"/><circle cx="468.3" cy="1974.8" r="6.3"/><circle cx="1648.1" cy="1989.0" r="6.3"/><circle cx="1654.8" cy="1990.3" r="6.3"/><circle cx="1312.9" cy="1967.6" r="6.3"/><circle cx="1202.7" cy="1967.0" r="6.3"/><circle cx="783.5" cy="1990.3" r="6.3"/><circle cx="895.5" cy="2281.2" r="6.3"/><circle cx="835.6" cy="2309.0" r="6.3"/><circle cx="1232.7" cy="1995.9" r="6.3"/><circle cx="893.4" cy="2311.2" r="6.3"/><circle cx="1682.1" cy="1963.3" r="6.3"/><circle cx="841.5" cy="2277.2" r="6.3"/><circle cx="1296.0" cy="2315.7" r="6.3"/><circle cx="496.4" cy="2001.5" r="6.3"/><circle cx="1689.6" cy="2001.8" r="6.3"/><circle cx="889.6" cy="2273.2" r="6.3"/><circle cx="1314.5" cy="2002.1" r="6.3"/><circle cx="1604.0" cy="2002.6" r="6.3"/><circle cx="788.9" cy="2004.2" r="6.3"/><circle cx="455.5" cy="2004.5" r="6.3"/><circle cx="839.4" cy="2320.0" r="6.3"/><circle cx="1242.3" cy="2005.8" r="6.3"/><circle cx="882.2" cy="2269.2" r="6.3"/><circle cx="1227.3" cy="1953.9" r="6.3"/><circle cx="1747.3" cy="1990.0" r="6.3"/><circle cx="1715.8" cy="2006.3" r="6.3"/><circle cx="784.6" cy="2006.3" r="6.3"/><circle cx="1594.1" cy="2006.3" r="6.3"/><circle cx="1706.2" cy="2007.9" r="6.3"/><circle cx="1650.3" cy="2008.5" r="6.3"/><circle cx="356.5" cy="2300.0" r="6.3"/><circle cx="1685.8" cy="1949.4" r="6.3"/><circle cx="1669.0" cy="2264.1" r="6.3"/><circle cx="1340.9" cy="2009.3" r="6.3"/><circle cx="772.8" cy="2012.0" r="6.3"/><circle cx="1257.0" cy="2262.5" r="6.3"/><circle cx="378.7" cy="2013.0" r="6.3"/><circle cx="1325.7" cy="2013.8" r="6.3"/><circle cx="1653.5" cy="2013.8" r="6.3"/><circle cx="763.2" cy="2010.4" r="6.3"/><circle cx="815.3" cy="2013.8" r="6.3"/><circle cx="520.4" cy="2005.3" r="6.3"/><circle cx="1588.0" cy="2016.0" r="6.3"/><circle cx="1328.4" cy="2016.5" r="6.3"/><circle cx="1584.0" cy="2013.0" r="6.3"/><circle cx="412.4" cy="2017.0" r="6.3"/><circle cx="1758.3" cy="2295.1" r="6.3"/><circle cx="759.4" cy="1993.5" r="6.3"/><circle cx="770.1" cy="2018.4" r="6.3"/><circle cx="1238.3" cy="2018.6" r="6.3"/><circle cx="1702.4" cy="2018.6" r="6.3"/><circle cx="935.9" cy="1974.5" r="6.3"/><circle cx="1581.3" cy="2003.1" r="6.3"/><circle cx="1658.3" cy="2019.7" r="6.3"/><circle cx="1723.0" cy="2019.7" r="6.3"/><circle cx="433.5" cy="2020.0" r="6.3"/><circle cx="932.4" cy="2254.0" r="6.3"/><circle cx="1762.3" cy="1999.1" r="6.3"/><circle cx="425.5" cy="2021.3" r="6.3"/><circle cx="1167.4" cy="2015.2" r="6.3"/><circle cx="1616.6" cy="2251.8" r="6.3"/><circle cx="933.8" cy="2250.5" r="6.3"/><circle cx="340.0" cy="1994.3" r="6.3"/><circle cx="752.0" cy="2003.7" r="6.3"/><circle cx="1767.6" cy="2021.8" r="6.3"/><circle cx="900.9" cy="2248.4" r="6.3"/><circle cx="1622.5" cy="2026.7" r="6.3"/><circle cx="921.5" cy="2248.1" r="6.3"/><circle cx="337.8" cy="1958.2" r="6.3"/><circle cx="1344.4" cy="2027.7" r="6.3"/><circle cx="1571.9" cy="2022.4" r="6.3"/><circle cx="335.9" cy="2003.1" r="6.3"/><circle cx="947.4" cy="1975.9" r="6.3"/><circle cx="1284.8" cy="2030.4" r="6.3"/><circle cx="1618.7" cy="2244.6" r="6.3"/><circle cx="1322.2" cy="2030.9" r="6.3"/><circle cx="1570.1" cy="1975.3" r="6.3"/><circle cx="393.4" cy="2243.8" r="6.3"/><circle cx="1188.0" cy="2031.2" r="6.3"/><circle cx="1574.1" cy="2031.2" r="6.3"/><circle cx="1724.9" cy="2031.2" r="6.3"/><circle cx="453.6" cy="2031.2" r="6.3"/><circle cx="787.2" cy="1928.3" r="6.3"/><circle cx="440.5" cy="2032.5" r="6.3"/><circle cx="850.3" cy="2242.2" r="6.3"/><circle cx="1201.4" cy="2033.1" r="6.3"/><circle cx="362.1" cy="2033.3" r="6.3"/><circle cx="1158.3" cy="2033.9" r="6.3"/><circle cx="1615.0" cy="2033.9" r="6.3"/><circle cx="351.2" cy="2033.9" r="6.3"/><circle cx="824.7" cy="2241.1" r="6.3"/><circle cx="1359.4" cy="2034.4" r="6.3"/><circle cx="1154.3" cy="1996.2" r="6.3"/><circle cx="483.0" cy="2035.2" r="6.3"/><circle cx="332.5" cy="2035.5" r="6.3"/><circle cx="891.5" cy="2239.3" r="6.3"/><circle cx="1268.2" cy="2036.0" r="6.3"/><circle cx="953.3" cy="2017.3" r="6.3"/><circle cx="401.4" cy="2238.7" r="6.3"/><circle cx="451.4" cy="2036.5" r="6.3"/><circle cx="1756.4" cy="2238.2" r="6.3"/><circle cx="1333.5" cy="2037.1" r="6.3"/><circle cx="509.5" cy="2037.4" r="6.3"/><circle cx="1635.3" cy="2037.9" r="6.3"/><circle cx="1672.7" cy="2037.9" r="6.3"/><circle cx="1779.1" cy="2035.7" r="6.3"/><circle cx="420.2" cy="2236.6" r="6.3"/><circle cx="782.2" cy="1921.6" r="6.3"/><circle cx="1687.7" cy="1921.1" r="6.3"/><circle cx="863.7" cy="2236.1" r="6.3"/><circle cx="938.3" cy="2236.1" r="6.3"/><circle cx="414.3" cy="2039.2" r="6.3"/><circle cx="816.9" cy="2235.3" r="6.3"/><circle cx="341.3" cy="2040.0" r="6.3"/><circle cx="760.8" cy="2235.0" r="6.3"/><circle cx="475.8" cy="2234.5" r="6.3"/><circle cx="1743.6" cy="1919.2" r="6.3"/><circle cx="470.2" cy="2041.1" r="6.3"/><circle cx="746.1" cy="2041.1" r="6.3"/><circle cx="1771.4" cy="2233.7" r="6.3"/><circle cx="1236.4" cy="2233.4" r="6.3"/><circle cx="1146.6" cy="2033.3" r="6.3"/><circle cx="1320.4" cy="2042.7" r="6.3"/><circle cx="1605.6" cy="2043.0" r="6.3"/><circle cx="416.2" cy="2232.0" r="6.3"/><circle cx="897.4" cy="2043.2" r="6.3"/><circle cx="1784.5" cy="1992.4" r="6.3"/><circle cx="1145.2" cy="2325.1" r="6.3"/><circle cx="733.2" cy="1954.5" r="6.3"/><circle cx="960.5" cy="2231.2" r="6.3"/><circle cx="1639.3" cy="2231.0" r="6.3"/><circle cx="445.8" cy="2230.7" r="6.3"/><circle cx="550.4" cy="1984.4" r="6.3"/><circle cx="791.3" cy="1914.6" r="6.3"/><circle cx="731.1" cy="2032.0" r="6.3"/><circle cx="1555.1" cy="2266.0" r="6.3"/><circle cx="767.2" cy="2229.1" r="6.3"/><circle cx="477.6" cy="2046.4" r="6.3"/><circle cx="427.4" cy="2046.7" r="6.3"/><circle cx="1376.2" cy="2315.5" r="6.3"/><circle cx="1788.2" cy="2257.4" r="6.3"/><circle cx="503.8" cy="2227.5" r="6.3"/><circle cx="964.5" cy="2043.2" r="6.3"/><circle cx="729.2" cy="2044.6" r="6.3"/><circle cx="1324.4" cy="2048.0" r="6.3"/><circle cx="1189.9" cy="2048.6" r="6.3"/><circle cx="1342.8" cy="2048.6" r="6.3"/><circle cx="1678.9" cy="2049.1" r="6.3"/><circle cx="494.5" cy="2049.1" r="6.3"/><circle cx="727.9" cy="2040.0" r="6.3"/><circle cx="1139.6" cy="2298.6" r="6.3"/><circle cx="1561.0" cy="2364.6" r="6.3"/><circle cx="349.3" cy="2049.9" r="6.3"/><circle cx="1792.0" cy="2273.2" r="6.3"/><circle cx="887.8" cy="2224.0" r="6.3"/><circle cx="313.8" cy="2342.2" r="6.3"/><circle cx="1380.2" cy="2358.0" r="6.3"/><circle cx="734.6" cy="2051.3" r="6.3"/><circle cx="1781.0" cy="2051.8" r="6.3"/><circle cx="739.4" cy="2052.6" r="6.3"/><circle cx="744.2" cy="2221.9" r="6.3"/><circle cx="535.4" cy="2221.4" r="6.3"/><circle cx="899.0" cy="2221.4" r="6.3"/><circle cx="559.2" cy="2053.9" r="6.3"/><circle cx="1134.6" cy="2258.8" r="6.3"/><circle cx="1577.8" cy="2054.5" r="6.3"/><circle cx="1670.9" cy="2054.5" r="6.3"/><circle cx="310.3" cy="2275.1" r="6.3"/><circle cx="1290.7" cy="2055.0" r="6.3"/><circle cx="722.0" cy="2223.0" r="6.3"/><circle cx="904.3" cy="2219.2" r="6.3"/><circle cx="1629.7" cy="2056.1" r="6.3"/><circle cx="418.0" cy="2056.3" r="6.3"/><circle cx="973.6" cy="1990.3" r="6.3"/><circle cx="1132.1" cy="2274.6" r="6.3"/><circle cx="832.2" cy="2218.1" r="6.3"/><circle cx="1264.5" cy="2057.1" r="6.3"/><circle cx="776.0" cy="2057.1" r="6.3"/><circle cx="874.9" cy="2057.1" r="6.3"/><circle cx="1543.9" cy="2057.9" r="6.3"/><circle cx="334.6" cy="2057.9" r="6.3"/><circle cx="1383.7" cy="2216.8" r="6.3"/><circle cx="518.8" cy="2216.8" r="6.3"/><circle cx="306.5" cy="2314.1" r="6.3"/><circle cx="975.5" cy="2225.1" r="6.3"/><circle cx="326.6" cy="2058.7" r="6.3"/><circle cx="1130.0" cy="2260.7" r="6.3"/><circle cx="884.3" cy="2059.5" r="6.3"/><circle cx="544.5" cy="2215.2" r="6.3"/><circle cx="1255.1" cy="2214.9" r="6.3"/><circle cx="1786.4" cy="2060.1" r="6.3"/><circle cx="438.3" cy="2214.9" r="6.3"/><circle cx="1801.3" cy="2246.5" r="6.3"/><circle cx="565.3" cy="2054.5" r="6.3"/><circle cx="977.3" cy="2051.8" r="6.3"/><circle cx="1600.0" cy="2060.3" r="6.3"/><circle cx="1128.4" cy="1998.9" r="6.3"/><circle cx="1550.0" cy="2060.6" r="6.3"/><circle cx="716.4" cy="2056.9" r="6.3"/><circle cx="1749.2" cy="2214.1" r="6.3"/><circle cx="1186.1" cy="2213.9" r="6.3"/><circle cx="407.1" cy="2061.1" r="6.3"/><circle cx="920.4" cy="2213.9" r="6.3"/><circle cx="1369.0" cy="2061.4" r="6.3"/><circle cx="1277.6" cy="2062.2" r="6.3"/><circle cx="1730.5" cy="2212.8" r="6.3"/><circle cx="1545.7" cy="2377.2" r="6.3"/><circle cx="384.6" cy="2062.2" r="6.3"/><circle cx="1141.5" cy="2212.5" r="6.3"/><circle cx="1193.6" cy="2062.7" r="6.3"/><circle cx="505.7" cy="2062.7" r="6.3"/><circle cx="1273.6" cy="2211.7" r="6.3"/><circle cx="1736.1" cy="2063.3" r="6.3"/><circle cx="958.6" cy="2063.3" r="6.3"/><circle cx="459.2" cy="2063.8" r="6.3"/><circle cx="753.8" cy="2063.8" r="6.3"/><circle cx="1805.1" cy="2284.2" r="6.3"/><circle cx="854.4" cy="2064.1" r="6.3"/><circle cx="712.7" cy="2040.3" r="6.3"/><circle cx="537.3" cy="2209.9" r="6.3"/><circle cx="915.8" cy="2209.9" r="6.3"/><circle cx="1717.1" cy="2065.4" r="6.3"/><circle cx="1769.8" cy="2209.3" r="6.3"/><circle cx="343.4" cy="2065.7" r="6.3"/><circle cx="552.5" cy="2209.3" r="6.3"/><circle cx="1806.7" cy="2211.2" r="6.3"/><circle cx="711.1" cy="2015.7" r="6.3"/><circle cx="1123.1" cy="1973.7" r="6.3"/><circle cx="1394.9" cy="2221.6" r="6.3"/><circle cx="1535.1" cy="2242.5" r="6.3"/><circle cx="756.0" cy="2066.0" r="6.3"/><circle cx="796.6" cy="2066.2" r="6.3"/><circle cx="928.9" cy="2208.5" r="6.3"/><circle cx="908.4" cy="2208.5" r="6.3"/><circle cx="1536.7" cy="2207.7" r="6.3"/><circle cx="572.5" cy="2047.2" r="6.3"/><circle cx="297.2" cy="2219.2" r="6.3"/><circle cx="1803.2" cy="2067.8" r="6.3"/><circle cx="1329.7" cy="2068.1" r="6.3"/><circle cx="1532.9" cy="2263.9" r="6.3"/><circle cx="985.4" cy="2055.3" r="6.3"/><circle cx="1809.4" cy="2211.7" r="6.3"/><circle cx="1704.3" cy="2206.4" r="6.3"/><circle cx="943.6" cy="2069.2" r="6.3"/><circle cx="1119.8" cy="2051.5" r="6.3"/><circle cx="574.4" cy="2068.4" r="6.3"/><circle cx="1398.4" cy="2267.1" r="6.3"/><circle cx="481.4" cy="2070.2" r="6.3"/><circle cx="1365.3" cy="2070.5" r="6.3"/><circle cx="1734.2" cy="2204.5" r="6.3"/><circle cx="1728.6" cy="2070.8" r="6.3"/><circle cx="1667.1" cy="2070.8" r="6.3"/><circle cx="962.4" cy="2070.8" r="6.3"/><circle cx="1381.8" cy="2204.0" r="6.3"/><circle cx="876.8" cy="2204.0" r="6.3"/><circle cx="1335.6" cy="2071.3" r="6.3"/><circle cx="1633.4" cy="2071.3" r="6.3"/><circle cx="867.2" cy="2071.6" r="6.3"/><circle cx="988.6" cy="2064.1" r="6.3"/><circle cx="1117.2" cy="2018.6" r="6.3"/><circle cx="705.2" cy="2063.8" r="6.3"/><circle cx="1775.1" cy="2071.8" r="6.3"/><circle cx="299.1" cy="2203.2" r="6.3"/><circle cx="1228.9" cy="2072.6" r="6.3"/><circle cx="499.8" cy="2072.6" r="6.3"/><circle cx="1646.8" cy="2072.9" r="6.3"/><circle cx="1331.9" cy="2073.2" r="6.3"/><circle cx="1765.8" cy="2201.8" r="6.3"/><circle cx="352.8" cy="2073.2" r="6.3"/><circle cx="507.6" cy="2201.8" r="6.3"/><circle cx="578.4" cy="2008.2" r="6.3"/><circle cx="319.1" cy="2073.4" r="6.3"/><circle cx="492.6" cy="2201.6" r="6.3"/><circle cx="567.5" cy="2201.6" r="6.3"/><circle cx="1527.3" cy="2278.0" r="6.3"/><circle cx="703.3" cy="2298.3" r="6.3"/><circle cx="429.3" cy="2074.0" r="6.3"/><circle cx="541.3" cy="2074.0" r="6.3"/><circle cx="554.4" cy="2074.2" r="6.3"/><circle cx="927.1" cy="2200.5" r="6.3"/><circle cx="1745.2" cy="2200.2" r="6.3"/><circle cx="736.5" cy="2074.8" r="6.3"/><circle cx="1816.3" cy="2349.1" r="6.3"/><circle cx="774.7" cy="2075.3" r="6.3"/><circle cx="1525.4" cy="2224.8" r="6.3"/><circle cx="1113.2" cy="2052.1" r="6.3"/><circle cx="367.5" cy="2075.8" r="6.3"/><circle cx="1588.8" cy="2076.1" r="6.3"/><circle cx="287.8" cy="2240.6" r="6.3"/><circle cx="1406.2" cy="2238.2" r="6.3"/><circle cx="1818.2" cy="2022.4" r="6.3"/><circle cx="994.4" cy="2051.8" r="6.3"/><circle cx="1225.2" cy="2197.3" r="6.3"/><circle cx="1391.5" cy="2197.3" r="6.3"/><circle cx="294.0" cy="2197.0" r="6.3"/><circle cx="707.0" cy="2078.0" r="6.3"/><circle cx="1163.7" cy="2196.8" r="6.3"/><circle cx="390.2" cy="2196.8" r="6.3"/><circle cx="1709.9" cy="2078.5" r="6.3"/><circle cx="969.8" cy="2078.5" r="6.3"/><circle cx="1357.5" cy="2078.8" r="6.3"/><circle cx="1820.0" cy="1993.8" r="6.3"/><circle cx="584.0" cy="2014.4" r="6.3"/><circle cx="807.8" cy="2079.3" r="6.3"/><circle cx="1311.0" cy="2079.9" r="6.3"/><circle cx="1209.4" cy="2079.9" r="6.3"/><circle cx="347.4" cy="2194.9" r="6.3"/><circle cx="291.3" cy="2080.4" r="6.3"/><circle cx="1631.6" cy="2194.4" r="6.3"/><circle cx="740.7" cy="2080.7" r="6.3"/><circle cx="768.8" cy="2080.7" r="6.3"/><circle cx="1409.9" cy="2271.9" r="6.3"/><circle cx="1821.9" cy="1931.8" r="6.3"/><circle cx="1204.1" cy="2081.2" r="6.3"/><circle cx="1732.4" cy="2193.8" r="6.3"/><circle cx="472.0" cy="2081.2" r="6.3"/><circle cx="522.6" cy="2081.2" r="6.3"/><circle cx="709.2" cy="2193.8" r="6.3"/><circle cx="1676.5" cy="2081.5" r="6.3"/><circle cx="858.1" cy="2081.5" r="6.3"/><circle cx="1698.9" cy="2193.0" r="6.3"/><circle cx="511.1" cy="2192.7" r="6.3"/><circle cx="1378.4" cy="2082.5" r="6.3"/><circle cx="1411.8" cy="2198.4" r="6.3"/><circle cx="1823.8" cy="2213.6" r="6.3"/><circle cx="1105.9" cy="2070.0" r="6.3"/><circle cx="1219.8" cy="2083.1" r="6.3"/><circle cx="1178.7" cy="2191.9" r="6.3"/><circle cx="1517.9" cy="2289.5" r="6.3"/><circle cx="403.6" cy="2191.9" r="6.3"/><circle cx="281.9" cy="2250.5" r="6.3"/><circle cx="693.9" cy="2008.7" r="6.3"/><circle cx="1120.6" cy="2083.3" r="6.3"/><circle cx="1278.9" cy="2191.7" r="6.3"/><circle cx="1540.4" cy="2191.7" r="6.3"/><circle cx="1609.4" cy="2191.7" r="6.3"/><circle cx="695.8" cy="2191.4" r="6.3"/><circle cx="1348.4" cy="2084.1" r="6.3"/><circle cx="1393.1" cy="2084.4" r="6.3"/><circle cx="289.2" cy="2190.6" r="6.3"/><circle cx="371.2" cy="2084.7" r="6.3"/><circle cx="280.1" cy="2256.6" r="6.3"/><circle cx="1240.2" cy="2190.1" r="6.3"/><circle cx="543.1" cy="2190.1" r="6.3"/><circle cx="917.7" cy="2189.5" r="6.3"/><circle cx="587.8" cy="2086.0" r="6.3"/><circle cx="399.6" cy="2189.0" r="6.3"/><circle cx="1415.3" cy="2229.4" r="6.3"/><circle cx="1182.7" cy="2086.5" r="6.3"/><circle cx="1355.6" cy="2188.5" r="6.3"/><circle cx="1827.5" cy="1981.2" r="6.3"/><circle cx="1696.8" cy="2188.5" r="6.3"/><circle cx="591.5" cy="2270.5" r="6.3"/><circle cx="690.2" cy="2069.2" r="6.3"/><circle cx="1171.2" cy="2086.8" r="6.3"/><circle cx="1557.2" cy="2187.7" r="6.3"/><circle cx="1812.6" cy="2187.7" r="6.3"/><circle cx="865.6" cy="2187.4" r="6.3"/><circle cx="457.1" cy="2087.9" r="6.3"/><circle cx="593.4" cy="1933.6" r="6.3"/><circle cx="688.6" cy="2037.4" r="6.3"/><circle cx="1281.1" cy="2186.6" r="6.3"/><circle cx="1417.4" cy="2245.9" r="6.3"/><circle cx="1512.6" cy="2205.8" r="6.3"/><circle cx="1829.4" cy="2264.1" r="6.3"/><circle cx="1516.3" cy="2088.7" r="6.3"/><circle cx="1253.3" cy="2186.1" r="6.3"/><circle cx="1005.4" cy="2088.9" r="6.3"/><circle cx="819.3" cy="2089.2" r="6.3"/><circle cx="1754.5" cy="2089.5" r="6.3"/><circle cx="1352.4" cy="2090.0" r="6.3"/><circle cx="1404.6" cy="2185.0" r="6.3"/><circle cx="1637.4" cy="2185.0" r="6.3"/><circle cx="473.6" cy="2090.0" r="6.3"/><circle cx="1003.3" cy="2185.0" r="6.3"/><circle cx="1419.3" cy="2258.2" r="6.3"/><circle cx="1510.7" cy="1980.9" r="6.3"/><circle cx="1831.3" cy="2236.9" r="6.3"/><circle cx="274.7" cy="2187.9" r="6.3"/><circle cx="1388.5" cy="2184.5" r="6.3"/><circle cx="686.5" cy="2032.5" r="6.3"/><circle cx="1111.8" cy="2090.6" r="6.3"/><circle cx="1644.7" cy="2090.6" r="6.3"/><circle cx="941.8" cy="2090.6" r="6.3"/><circle cx="1564.7" cy="2184.2" r="6.3"/><circle cx="557.8" cy="2091.1" r="6.3"/><circle cx="1148.7" cy="2091.4" r="6.3"/><circle cx="1719.0" cy="2091.4" r="6.3"/><circle cx="764.8" cy="2091.4" r="6.3"/><circle cx="949.3" cy="2091.4" r="6.3"/><circle cx="1833.1" cy="2185.8" r="6.3"/><circle cx="597.1" cy="2004.7" r="6.3"/><circle cx="684.9" cy="1948.3" r="6.3"/><circle cx="1009.1" cy="2232.6" r="6.3"/><circle cx="1292.3" cy="2182.6" r="6.3"/><circle cx="1508.6" cy="2191.7" r="6.3"/><circle cx="725.8" cy="2182.6" r="6.3"/><circle cx="1369.8" cy="2182.3" r="6.3"/><circle cx="323.1" cy="2092.7" r="6.3"/><circle cx="377.4" cy="2092.7" r="6.3"/><circle cx="911.8" cy="2182.3" r="6.3"/><circle cx="1726.7" cy="2182.1" r="6.3"/><circle cx="1620.6" cy="2093.2" r="6.3"/><circle cx="1422.5" cy="2072.1" r="6.3"/><circle cx="598.7" cy="2207.2" r="6.3"/><circle cx="1372.5" cy="2181.0" r="6.3"/><circle cx="1507.0" cy="2057.4" r="6.3"/><circle cx="480.3" cy="2094.0" r="6.3"/><circle cx="271.0" cy="2242.5" r="6.3"/><circle cx="829.5" cy="2094.0" r="6.3"/><circle cx="1243.9" cy="2094.6" r="6.3"/><circle cx="1585.3" cy="2094.6" r="6.3"/><circle cx="742.3" cy="2094.8" r="6.3"/><circle cx="1223.3" cy="2179.9" r="6.3"/><circle cx="878.4" cy="2179.6" r="6.3"/><circle cx="269.4" cy="2226.4" r="6.3"/><circle cx="681.1" cy="2082.0" r="6.3"/><circle cx="1012.9" cy="2198.4" r="6.3"/><circle cx="444.2" cy="2095.9" r="6.3"/><circle cx="1559.1" cy="2096.2" r="6.3"/><circle cx="373.4" cy="2096.2" r="6.3"/><circle cx="1425.2" cy="2229.1" r="6.3"/><circle cx="1216.1" cy="2178.6" r="6.3"/><circle cx="1504.6" cy="2063.8" r="6.3"/><circle cx="526.3" cy="2097.2" r="6.3"/><circle cx="583.2" cy="2097.2" r="6.3"/><circle cx="1009.9" cy="2177.8" r="6.3"/><circle cx="513.2" cy="2097.5" r="6.3"/><circle cx="1838.8" cy="2198.6" r="6.3"/><circle cx="602.8" cy="2024.0" r="6.3"/><circle cx="1014.8" cy="2244.3" r="6.3"/><circle cx="1176.8" cy="2177.0" r="6.3"/><circle cx="1091.0" cy="2184.7" r="6.3"/><circle cx="1503.0" cy="2203.2" r="6.3"/><circle cx="462.9" cy="2098.0" r="6.3"/><circle cx="576.6" cy="2098.0" r="6.3"/><circle cx="267.0" cy="2199.2" r="6.3"/><circle cx="1680.2" cy="2176.7" r="6.3"/><circle cx="923.1" cy="2098.3" r="6.3"/><circle cx="820.7" cy="2176.7" r="6.3"/><circle cx="1408.0" cy="2176.4" r="6.3"/><circle cx="546.9" cy="2098.6" r="6.3"/><circle cx="1523.8" cy="2098.8" r="6.3"/><circle cx="1096.6" cy="2175.6" r="6.3"/><circle cx="1721.1" cy="2099.4" r="6.3"/><circle cx="1840.4" cy="2344.9" r="6.3"/><circle cx="1001.1" cy="2175.6" r="6.3"/><circle cx="1501.4" cy="2309.8" r="6.3"/><circle cx="677.4" cy="1983.1" r="6.3"/><circle cx="1016.6" cy="2182.3" r="6.3"/><circle cx="265.1" cy="2203.2" r="6.3"/><circle cx="364.0" cy="2099.9" r="6.3"/><circle cx="600.9" cy="2175.1" r="6.3"/><circle cx="861.6" cy="2099.9" r="6.3"/><circle cx="957.0" cy="2100.2" r="6.3"/><circle cx="1421.1" cy="2174.0" r="6.3"/><circle cx="925.2" cy="2174.0" r="6.3"/><circle cx="437.0" cy="2101.2" r="6.3"/><circle cx="1367.1" cy="2101.5" r="6.3"/><circle cx="1430.5" cy="2217.9" r="6.3"/><circle cx="606.5" cy="2053.4" r="6.3"/><circle cx="1499.2" cy="2043.8" r="6.3"/><circle cx="675.2" cy="2021.0" r="6.3"/><circle cx="263.2" cy="2237.9" r="6.3"/><circle cx="1385.6" cy="2173.2" r="6.3"/><circle cx="1611.2" cy="2173.2" r="6.3"/><circle cx="750.1" cy="2173.2" r="6.3"/><circle cx="1521.2" cy="2102.0" r="6.3"/><circle cx="1568.5" cy="2102.0" r="6.3"/><circle cx="692.3" cy="2102.0" r="6.3"/><circle cx="369.6" cy="2172.7" r="6.3"/><circle cx="939.9" cy="2102.6" r="6.3"/><circle cx="392.1" cy="2102.9" r="6.3"/><circle cx="1432.1" cy="2070.2" r="6.3"/><circle cx="608.1" cy="1981.7" r="6.3"/><circle cx="673.6" cy="1878.3" r="6.3"/><circle cx="1085.6" cy="1991.6" r="6.3"/><circle cx="1199.2" cy="2103.4" r="6.3"/><circle cx="1547.9" cy="2171.6" r="6.3"/><circle cx="1837.4" cy="2171.6" r="6.3"/><circle cx="1844.4" cy="2311.4" r="6.3"/><circle cx="295.8" cy="2103.4" r="6.3"/><circle cx="719.9" cy="2103.4" r="6.3"/><circle cx="1428.6" cy="2103.9" r="6.3"/><circle cx="1294.2" cy="2171.1" r="6.3"/><circle cx="826.0" cy="2103.9" r="6.3"/><circle cx="301.2" cy="2104.2" r="6.3"/><circle cx="277.9" cy="2104.7" r="6.3"/><circle cx="1434.0" cy="2237.1" r="6.3"/><circle cx="1022.0" cy="2308.2" r="6.3"/><circle cx="1834.7" cy="2169.8" r="6.3"/><circle cx="1083.8" cy="2224.6" r="6.3"/><circle cx="1846.2" cy="2219.2" r="6.3"/><circle cx="1159.9" cy="2105.3" r="6.3"/><circle cx="1260.7" cy="2105.5" r="6.3"/><circle cx="1562.6" cy="2169.0" r="6.3"/><circle cx="585.9" cy="2169.0" r="6.3"/><circle cx="1018.5" cy="2169.0" r="6.3"/><circle cx="1316.6" cy="2106.1" r="6.3"/><circle cx="1100.6" cy="2106.1" r="6.3"/><circle cx="382.7" cy="2106.1" r="6.3"/><circle cx="871.5" cy="2106.1" r="6.3"/><circle cx="302.8" cy="2168.7" r="6.3"/><circle cx="1206.7" cy="2168.4" r="6.3"/><circle cx="1234.8" cy="2168.4" r="6.3"/><circle cx="1494.4" cy="2098.0" r="6.3"/><circle cx="561.6" cy="2168.4" r="6.3"/><circle cx="442.4" cy="2168.4" r="6.3"/><circle cx="702.0" cy="2168.4" r="6.3"/><circle cx="1081.9" cy="2095.4" r="6.3"/><circle cx="1848.1" cy="2184.2" r="6.3"/><circle cx="257.9" cy="2063.0" r="6.3"/><circle cx="612.1" cy="2098.3" r="6.3"/><circle cx="1361.3" cy="2107.4" r="6.3"/><circle cx="1161.8" cy="2167.6" r="6.3"/><circle cx="1656.2" cy="2107.4" r="6.3"/><circle cx="1598.1" cy="2167.6" r="6.3"/><circle cx="813.4" cy="2107.4" r="6.3"/><circle cx="698.0" cy="2107.4" r="6.3"/><circle cx="1738.0" cy="2107.7" r="6.3"/><circle cx="1661.5" cy="2107.9" r="6.3"/><circle cx="1592.0" cy="2167.1" r="6.3"/><circle cx="325.3" cy="2107.9" r="6.3"/><circle cx="610.0" cy="2167.1" r="6.3"/><circle cx="834.3" cy="2107.9" r="6.3"/><circle cx="683.0" cy="2107.9" r="6.3"/><circle cx="1115.3" cy="2108.2" r="6.3"/><circle cx="1214.2" cy="2108.2" r="6.3"/><circle cx="1752.9" cy="2108.2" r="6.3"/><circle cx="487.0" cy="2108.2" r="6.3"/><circle cx="613.5" cy="2061.9" r="6.3"/><circle cx="1790.4" cy="2166.3" r="6.3"/><circle cx="283.8" cy="2108.7" r="6.3"/><circle cx="1438.0" cy="2170.6" r="6.3"/><circle cx="1850.0" cy="2254.0" r="6.3"/><circle cx="668.0" cy="2099.6" r="6.3"/><circle cx="1079.7" cy="1953.1" r="6.3"/><circle cx="1491.7" cy="2175.1" r="6.3"/><circle cx="1089.1" cy="2109.3" r="6.3"/><circle cx="1095.0" cy="2165.7" r="6.3"/><circle cx="447.7" cy="2109.3" r="6.3"/><circle cx="529.8" cy="2165.7" r="6.3"/><circle cx="1107.3" cy="2109.5" r="6.3"/><circle cx="1700.5" cy="2109.5" r="6.3"/><circle cx="331.1" cy="2109.5" r="6.3"/><circle cx="1531.0" cy="2164.9" r="6.3"/><circle cx="1708.0" cy="2164.9" r="6.3"/><circle cx="1763.9" cy="2164.9" r="6.3"/><circle cx="604.6" cy="2110.1" r="6.3"/><circle cx="955.1" cy="2110.1" r="6.3"/><circle cx="699.8" cy="2164.9" r="6.3"/><circle cx="837.5" cy="2164.7" r="6.3"/><circle cx="1439.6" cy="2093.2" r="6.3"/><circle cx="1777.3" cy="2164.4" r="6.3"/><circle cx="1027.6" cy="1951.3" r="6.3"/><circle cx="666.1" cy="2198.1" r="6.3"/><circle cx="1851.9" cy="2281.2" r="6.3"/><circle cx="723.9" cy="2110.9" r="6.3"/><circle cx="1489.9" cy="2061.1" r="6.3"/><circle cx="1551.4" cy="2163.9" r="6.3"/><circle cx="328.7" cy="2163.9" r="6.3"/><circle cx="984.5" cy="2163.9" r="6.3"/><circle cx="1607.5" cy="2111.4" r="6.3"/><circle cx="1519.8" cy="2163.6" r="6.3"/><circle cx="1613.4" cy="2163.6" r="6.3"/><circle cx="498.2" cy="2163.6" r="6.3"/><circle cx="1400.6" cy="2111.9" r="6.3"/><circle cx="1413.7" cy="2111.9" r="6.3"/><circle cx="1135.9" cy="2163.1" r="6.3"/><circle cx="1218.0" cy="2163.1" r="6.3"/><circle cx="1665.3" cy="2163.1" r="6.3"/><circle cx="802.0" cy="2111.9" r="6.3"/><circle cx="1495.8" cy="2162.8" r="6.3"/><circle cx="410.8" cy="2112.2" r="6.3"/><circle cx="992.6" cy="2112.2" r="6.3"/><circle cx="1441.5" cy="2060.6" r="6.3"/><circle cx="617.5" cy="2021.3" r="6.3"/><circle cx="997.9" cy="2162.5" r="6.3"/><circle cx="1300.3" cy="2112.7" r="6.3"/><circle cx="1030.0" cy="2108.7" r="6.3"/><circle cx="664.0" cy="2265.7" r="6.3"/><circle cx="1487.7" cy="2095.4" r="6.3"/><circle cx="1259.4" cy="2161.7" r="6.3"/><circle cx="714.5" cy="2113.3" r="6.3"/><circle cx="1275.7" cy="2113.5" r="6.3"/><circle cx="1741.7" cy="2161.2" r="6.3"/><circle cx="1304.3" cy="2114.1" r="6.3"/><circle cx="1339.1" cy="2160.7" r="6.3"/><circle cx="488.9" cy="2160.7" r="6.3"/><circle cx="1426.8" cy="2160.4" r="6.3"/><circle cx="1486.4" cy="2200.2" r="6.3"/><circle cx="748.2" cy="2160.4" r="6.3"/><circle cx="1031.6" cy="2237.7" r="6.3"/><circle cx="1151.9" cy="2114.9" r="6.3"/><circle cx="1590.7" cy="2114.9" r="6.3"/><circle cx="286.0" cy="2114.9" r="6.3"/><circle cx="1444.1" cy="2171.9" r="6.3"/><circle cx="1624.3" cy="2159.6" r="6.3"/><circle cx="996.6" cy="2115.4" r="6.3"/><circle cx="1184.5" cy="2159.1" r="6.3"/><circle cx="1230.8" cy="2159.1" r="6.3"/><circle cx="539.9" cy="2159.1" r="6.3"/><circle cx="800.3" cy="2159.1" r="6.3"/><circle cx="1156.7" cy="2116.0" r="6.3"/><circle cx="501.7" cy="2116.0" r="6.3"/><circle cx="311.4" cy="2116.2" r="6.3"/><circle cx="1078.4" cy="2158.5" r="6.3"/><circle cx="1810.7" cy="2158.5" r="6.3"/><circle cx="621.5" cy="2111.4" r="6.3"/><circle cx="1033.5" cy="2087.3" r="6.3"/><circle cx="660.5" cy="2173.5" r="6.3"/><circle cx="951.1" cy="2158.3" r="6.3"/><circle cx="1072.3" cy="2192.5" r="6.3"/><circle cx="1484.3" cy="2322.1" r="6.3"/><circle cx="1795.7" cy="2116.8" r="6.3"/><circle cx="914.0" cy="2117.3" r="6.3"/><circle cx="873.1" cy="2117.3" r="6.3"/><circle cx="806.8" cy="2117.3" r="6.3"/><circle cx="930.8" cy="2157.7" r="6.3"/><circle cx="1266.9" cy="2157.5" r="6.3"/><circle cx="1098.5" cy="2117.6" r="6.3"/><circle cx="321.2" cy="2157.2" r="6.3"/><circle cx="1246.8" cy="2156.9" r="6.3"/><circle cx="662.4" cy="2156.9" r="6.3"/><circle cx="1447.3" cy="2004.5" r="6.3"/><circle cx="623.3" cy="1980.9" r="6.3"/><circle cx="1035.3" cy="1992.4" r="6.3"/><circle cx="1070.4" cy="2032.8" r="6.3"/><circle cx="1482.4" cy="2112.2" r="6.3"/><circle cx="1579.4" cy="2156.4" r="6.3"/><circle cx="880.3" cy="2156.4" r="6.3"/><circle cx="990.4" cy="2156.4" r="6.3"/><circle cx="658.4" cy="2017.8" r="6.3"/><circle cx="1252.2" cy="2155.9" r="6.3"/><circle cx="304.4" cy="2155.9" r="6.3"/><circle cx="965.8" cy="2155.9" r="6.3"/><circle cx="315.9" cy="2119.4" r="6.3"/><circle cx="423.6" cy="2119.4" r="6.3"/><circle cx="843.1" cy="2119.4" r="6.3"/><circle cx="902.2" cy="2155.6" r="6.3"/><circle cx="972.0" cy="2155.3" r="6.3"/><circle cx="1353.8" cy="2155.1" r="6.3"/><circle cx="533.8" cy="2155.1" r="6.3"/><circle cx="450.1" cy="2155.1" r="6.3"/><circle cx="580.3" cy="2120.2" r="6.3"/><circle cx="1449.2" cy="2072.1" r="6.3"/><circle cx="1210.2" cy="1839.5" r="6.3"/><circle cx="1068.5" cy="2109.5" r="6.3"/><circle cx="1480.5" cy="2026.1" r="6.3"/><circle cx="1197.4" cy="2154.2" r="6.3"/><circle cx="812.1" cy="2120.8" r="6.3"/><circle cx="848.7" cy="2154.2" r="6.3"/><circle cx="1435.8" cy="2153.7" r="6.3"/><circle cx="1075.7" cy="2153.7" r="6.3"/><circle cx="434.9" cy="2121.3" r="6.3"/><circle cx="1093.1" cy="2121.6" r="6.3"/><circle cx="852.2" cy="2121.6" r="6.3"/><circle cx="1038.8" cy="2099.9" r="6.3"/><circle cx="1066.9" cy="2064.6" r="6.3"/><circle cx="1126.5" cy="2122.1" r="6.3"/><circle cx="1308.9" cy="2122.1" r="6.3"/><circle cx="1642.8" cy="2122.1" r="6.3"/><circle cx="261.6" cy="2122.1" r="6.3"/><circle cx="856.8" cy="2122.1" r="6.3"/><circle cx="982.9" cy="2122.1" r="6.3"/><circle cx="654.9" cy="2074.5" r="6.3"/><circle cx="627.4" cy="2106.1" r="6.3"/><circle cx="627.4" cy="2112.7" r="6.3"/><circle cx="1180.0" cy="2152.4" r="6.3"/><circle cx="1626.2" cy="2122.6" r="6.3"/><circle cx="485.1" cy="2122.6" r="6.3"/><circle cx="569.1" cy="2152.4" r="6.3"/><circle cx="431.1" cy="2152.4" r="6.3"/><circle cx="1288.8" cy="2122.9" r="6.3"/><circle cx="1175.2" cy="2123.4" r="6.3"/><circle cx="1538.5" cy="2151.6" r="6.3"/><circle cx="1751.1" cy="2151.6" r="6.3"/><circle cx="318.0" cy="2123.4" r="6.3"/><circle cx="548.5" cy="2151.6" r="6.3"/><circle cx="1452.7" cy="2102.6" r="6.3"/><circle cx="1040.7" cy="2314.9" r="6.3"/><circle cx="1065.0" cy="2051.5" r="6.3"/><circle cx="1451.4" cy="2124.0" r="6.3"/><circle cx="1212.1" cy="2151.0" r="6.3"/><circle cx="1799.2" cy="2124.0" r="6.3"/><circle cx="1477.0" cy="2259.9" r="6.3"/><circle cx="421.5" cy="2124.0" r="6.3"/><circle cx="906.5" cy="2151.0" r="6.3"/><circle cx="653.0" cy="2242.2" r="6.3"/><circle cx="515.1" cy="2124.2" r="6.3"/><circle cx="1298.2" cy="2150.5" r="6.3"/><circle cx="1346.6" cy="2150.5" r="6.3"/><circle cx="1674.3" cy="2150.5" r="6.3"/><circle cx="1842.5" cy="2150.5" r="6.3"/><circle cx="527.9" cy="2150.5" r="6.3"/><circle cx="1110.0" cy="2124.8" r="6.3"/><circle cx="1318.5" cy="2150.2" r="6.3"/><circle cx="1478.9" cy="2124.8" r="6.3"/><circle cx="1596.0" cy="2124.8" r="6.3"/><circle cx="1553.2" cy="2150.2" r="6.3"/><circle cx="375.2" cy="2124.8" r="6.3"/><circle cx="1337.2" cy="2125.0" r="6.3"/><circle cx="630.0" cy="2077.5" r="6.3"/><circle cx="671.8" cy="2149.7" r="6.3"/><circle cx="794.7" cy="2149.7" r="6.3"/><circle cx="1454.6" cy="2191.9" r="6.3"/><circle cx="1042.6" cy="2116.8" r="6.3"/><circle cx="1026.0" cy="2125.6" r="6.3"/><circle cx="1063.2" cy="2158.5" r="6.3"/><circle cx="1475.2" cy="2174.0" r="6.3"/><circle cx="651.2" cy="2207.2" r="6.3"/><circle cx="466.4" cy="2149.2" r="6.3"/><circle cx="1529.2" cy="2148.9" r="6.3"/><circle cx="1165.8" cy="2148.4" r="6.3"/><circle cx="1695.2" cy="2126.6" r="6.3"/><circle cx="524.4" cy="2126.6" r="6.3"/><circle cx="397.4" cy="2126.9" r="6.3"/><circle cx="563.2" cy="2126.9" r="6.3"/><circle cx="1514.2" cy="2147.8" r="6.3"/><circle cx="354.7" cy="2147.8" r="6.3"/><circle cx="632.4" cy="2086.5" r="6.3"/><circle cx="1103.8" cy="2127.4" r="6.3"/><circle cx="1456.4" cy="2177.2" r="6.3"/><circle cx="360.3" cy="2127.4" r="6.3"/><circle cx="1061.3" cy="2092.4" r="6.3"/><circle cx="619.6" cy="1832.3" r="6.3"/><circle cx="1044.7" cy="2033.9" r="6.3"/><circle cx="649.3" cy="2044.0" r="6.3"/><circle cx="1473.0" cy="2114.1" r="6.3"/><circle cx="276.6" cy="2147.0" r="6.3"/><circle cx="490.5" cy="2147.0" r="6.3"/><circle cx="830.3" cy="2147.0" r="6.3"/><circle cx="272.6" cy="2128.2" r="6.3"/><circle cx="1374.4" cy="2146.5" r="6.3"/><circle cx="386.2" cy="2146.5" r="6.3"/><circle cx="615.6" cy="2146.5" r="6.3"/><circle cx="1576.0" cy="2146.2" r="6.3"/><circle cx="1711.5" cy="2146.2" r="6.3"/><circle cx="968.0" cy="2128.8" r="6.3"/><circle cx="1007.3" cy="2128.8" r="6.3"/><circle cx="1037.2" cy="2146.2" r="6.3"/><circle cx="1059.7" cy="2122.6" r="6.3"/><circle cx="1471.7" cy="2103.9" r="6.3"/><circle cx="647.7" cy="2117.6" r="6.3"/><circle cx="1800.5" cy="2129.3" r="6.3"/><circle cx="1628.1" cy="2145.7" r="6.3"/><circle cx="556.5" cy="2145.7" r="6.3"/><circle cx="1458.6" cy="2120.2" r="6.3"/><circle cx="1760.2" cy="2129.6" r="6.3"/><circle cx="634.8" cy="2101.2" r="6.3"/><circle cx="1046.8" cy="2090.0" r="6.3"/><circle cx="1087.8" cy="2145.2" r="6.3"/><circle cx="1143.9" cy="2145.2" r="6.3"/><circle cx="1272.2" cy="2144.9" r="6.3"/><circle cx="589.4" cy="2130.1" r="6.3"/><circle cx="461.6" cy="2144.9" r="6.3"/><circle cx="595.3" cy="2445.1" r="6.3"/><circle cx="999.8" cy="2130.1" r="6.3"/><circle cx="1814.4" cy="2144.6" r="6.3"/><circle cx="670.4" cy="2144.4" r="6.3"/><circle cx="846.9" cy="2144.4" r="6.3"/><circle cx="859.7" cy="2144.4" r="6.3"/><circle cx="1269.8" cy="2130.7" r="6.3"/><circle cx="1602.2" cy="2130.7" r="6.3"/><circle cx="366.2" cy="2130.7" r="6.3"/><circle cx="405.5" cy="2130.9" r="6.3"/><circle cx="1047.9" cy="2053.9" r="6.3"/><circle cx="981.1" cy="2130.9" r="6.3"/><circle cx="1124.7" cy="2143.8" r="6.3"/><circle cx="1057.8" cy="2208.5" r="6.3"/><circle cx="1469.8" cy="2194.4" r="6.3"/><circle cx="645.6" cy="2188.2" r="6.3"/><circle cx="1286.9" cy="2143.6" r="6.3"/><circle cx="1739.8" cy="2143.6" r="6.3"/><circle cx="757.3" cy="2143.6" r="6.3"/><circle cx="1173.3" cy="2131.5" r="6.3"/><circle cx="1793.8" cy="2131.5" r="6.3"/><circle cx="380.9" cy="2131.5" r="6.3"/><circle cx="910.2" cy="2131.5" r="6.3"/><circle cx="804.1" cy="2131.5" r="6.3"/><circle cx="1022.8" cy="2131.5" r="6.3"/><circle cx="636.7" cy="2075.8" r="6.3"/><circle cx="1283.5" cy="2132.0" r="6.3"/><circle cx="1301.6" cy="2132.0" r="6.3"/><circle cx="1102.5" cy="2143.0" r="6.3"/><circle cx="1363.4" cy="2143.0" r="6.3"/><circle cx="1542.5" cy="2143.0" r="6.3"/><circle cx="396.1" cy="2143.0" r="6.3"/><circle cx="779.5" cy="2132.0" r="6.3"/><circle cx="656.5" cy="2143.0" r="6.3"/><circle cx="1249.5" cy="2132.3" r="6.3"/><circle cx="1168.0" cy="2132.3" r="6.3"/><circle cx="570.7" cy="2132.3" r="6.3"/><circle cx="810.8" cy="2132.3" r="6.3"/><circle cx="1138.6" cy="2142.5" r="6.3"/><circle cx="1397.4" cy="2142.5" r="6.3"/><circle cx="308.1" cy="2142.5" r="6.3"/><circle cx="1460.7" cy="2132.8" r="6.3"/><circle cx="1462.0" cy="2201.0" r="6.3"/><circle cx="638.0" cy="2130.7" r="6.3"/><circle cx="1050.0" cy="2132.8" r="6.3"/><circle cx="1055.7" cy="2012.2" r="6.3"/><circle cx="1467.7" cy="2098.0" r="6.3"/><circle cx="1773.3" cy="2141.7" r="6.3"/><circle cx="718.3" cy="2141.7" r="6.3"/><circle cx="1713.6" cy="2141.1" r="6.3"/><circle cx="1690.9" cy="2134.1" r="6.3"/><circle cx="1782.6" cy="2134.1" r="6.3"/><circle cx="531.9" cy="2134.1" r="6.3"/><circle cx="516.9" cy="2134.1" r="6.3"/><circle cx="979.2" cy="2140.9" r="6.3"/><circle cx="639.4" cy="2201.3" r="6.3"/><circle cx="1262.9" cy="2140.3" r="6.3"/><circle cx="1566.3" cy="2134.7" r="6.3"/><circle cx="845.0" cy="2140.3" r="6.3"/><circle cx="642.3" cy="1993.5" r="6.3"/><circle cx="1445.5" cy="2134.9" r="6.3"/><circle cx="1074.4" cy="2134.9" r="6.3"/><circle cx="1195.5" cy="2134.9" r="6.3"/><circle cx="1463.9" cy="2229.6" r="6.3"/><circle cx="1051.9" cy="2060.6" r="6.3"/><circle cx="798.2" cy="2134.9" r="6.3"/><circle cx="358.7" cy="2139.8" r="6.3"/><circle cx="1053.8" cy="2205.0" r="6.3"/><circle cx="1465.8" cy="2144.4" r="6.3"/><circle cx="1150.6" cy="2135.5" r="6.3"/><circle cx="1825.7" cy="2135.5" r="6.3"/><circle cx="1497.6" cy="2139.5" r="6.3"/><circle cx="643.7" cy="2135.5" r="6.3"/><circle cx="822.8" cy="2135.5" r="6.3"/><circle cx="945.8" cy="2135.5" r="6.3"/><circle cx="345.3" cy="2139.0" r="6.3"/><circle cx="464.8" cy="2138.2" r="6.3"/><circle cx="679.0" cy="2136.8" r="6.3"/><circle cx="869.6" cy="2136.8" r="6.3"/><circle cx="1020.1" cy="2138.2" r="6.3"/><circle cx="1403.8" cy="2137.7" r="6.3"/><circle cx="1190.7" cy="2137.6" r="6.3"/><circle cx="776.0" cy="2138.1" r="6.3"/><circle cx="1220.0" cy="2180.7" r="6.3"/>
</g>
<path d="M257.80 1819.80v-18.8M257.80 2457.60v18.8M302.55 1819.80v-9.7M302.55 2457.60v9.7M347.30 1819.80v-9.7M347.30 2457.60v9.7M392.05 1819.80v-18.8M392.05 2457.60v18.8M436.80 1819.80v-9.7M436.80 2457.60v9.7M481.55 1819.80v-9.7M481.55 2457.60v9.7M526.30 1819.80v-18.8M526.30 2457.60v18.8M571.05 1819.80v-9.7M571.05 2457.60v9.7M615.80 1819.80v-9.7M615.80 2457.60v9.7M660.55 1819.80v-18.8M660.55 2457.60v18.8M705.30 1819.80v-9.7M705.30 2457.60v9.7M750.05 1819.80v-9.7M750.05 2457.60v9.7M794.80 1819.80v-18.8M794.80 2457.60v18.8M839.55 1819.80v-9.7M839.55 2457.60v9.7M884.30 1819.80v-9.7M884.30 2457.60v9.7M929.05 1819.80v-18.8M929.05 2457.60v18.8M973.80 1819.80v-9.7M973.80 2457.60v9.7M1018.55 1819.80v-9.7M1018.55 2457.60v9.7M1063.30 1819.80v-18.8M1063.30 2457.60v18.8M1108.05 1819.80v-9.7M1108.05 2457.60v9.7M1152.80 1819.80v-9.7M1152.80 2457.60v9.7M1197.55 1819.80v-18.8M1197.55 2457.60v18.8M1242.30 1819.80v-9.7M1242.30 2457.60v9.7M1287.05 1819.80v-9.7M1287.05 2457.60v9.7M1331.80 1819.80v-18.8M1331.80 2457.60v18.8M1376.55 1819.80v-9.7M1376.55 2457.60v9.7M1421.30 1819.80v-9.7M1421.30 2457.60v9.7M1466.05 1819.80v-18.8M1466.05 2457.60v18.8M1510.80 1819.80v-9.7M1510.80 2457.60v9.7M1555.55 1819.80v-9.7M1555.55 2457.60v9.7M1600.30 1819.80v-18.8M1600.30 2457.60v18.8M1645.05 1819.80v-9.7M1645.05 2457.60v9.7M1689.80 1819.80v-9.7M1689.80 2457.60v9.7M1734.55 1819.80v-18.8M1734.55 2457.60v18.8M1779.30 1819.80v-9.7M1779.30 2457.60v9.7M1824.05 1819.80v-9.7M1824.05 2457.60v9.7M1868.80 1819.80v-18.8M1868.80 2457.60v18.8M226.0 2334.44h-18.8M1883.7 2334.44h18.8M226.0 2198.72h-18.8M1883.7 2198.72h18.8M226.0 2063.00h-18.8M1883.7 2063.00h18.8M226.0 1927.28h-18.8M1883.7 1927.28h18.8" stroke="#000" stroke-width="2.3" fill="none"/>
<rect x="226.0" y="1819.8" width="1657.7" height="637.8" fill="none" stroke="#000" stroke-width="5.8"/>
<rect x="226" y="2687" width="1657.7" height="153.1" fill="none" stroke="#000" stroke-width="5.8"/>
<g style="opacity:.999">
<text class="b" x="1054.5" y="99.0" font-size="53.18" text-anchor="middle">NSHX - Rapid 5 Minute Sample Rate Solutions</text>
<text class="b" x="1055.3" y="148.0" font-size="53.18" text-anchor="middle" xml:space="preserve">UTC Days Shown:  26JAN07 26JAN08 26JAN09</text>
<text class="b" font-size="42.7" text-anchor="middle" transform="translate(257.80 892.8) scale(1 1.055)">0</text>
<text class="b" font-size="42.7" text-anchor="middle" transform="translate(392.05 892.8) scale(1 1.055)">6</text>
<text class="b" font-size="42.7" text-anchor="middle" transform="translate(526.30 892.8) scale(1 1.055)">12</text>
<text class="b" font-size="42.7" text-anchor="middle" transform="translate(660.55 892.8) scale(1 1.055)">18</text>
<text class="b" font-size="42.7" text-anchor="middle" transform="translate(794.80 892.8) scale(1 1.055)">24</text>
<text class="b" font-size="42.7" text-anchor="middle" transform="translate(929.05 892.8) scale(1 1.055)">30</text>
<text class="b" font-size="42.7" text-anchor="middle" transform="translate(1063.30 892.8) scale(1 1.055)">36</text>
<text class="b" font-size="42.7" text-anchor="middle" transform="translate(1197.55 892.8) scale(1 1.055)">42</text>
<text class="b" font-size="42.7" text-anchor="middle" transform="translate(1331.80 892.8) scale(1 1.055)">48</text>
<text class="b" font-size="42.7" text-anchor="middle" transform="translate(1466.05 892.8) scale(1 1.055)">54</text>
<text class="b" font-size="42.7" text-anchor="middle" transform="translate(1600.30 892.8) scale(1 1.055)">60</text>
<text class="b" font-size="42.7" text-anchor="middle" transform="translate(1734.55 892.8) scale(1 1.055)">66</text>
<text class="b" font-size="42.7" text-anchor="middle" transform="translate(1868.80 892.8) scale(1 1.055)">72</text>
<text class="b" font-size="42.7" text-anchor="end" transform="translate(191.0 808.5) scale(1 1.055)">−30</text>
<text class="b" font-size="42.7" text-anchor="end" transform="translate(191.0 709.6) scale(1 1.055)">−20</text>
<text class="b" font-size="42.7" text-anchor="end" transform="translate(191.0 610.7) scale(1 1.055)">−10</text>
<text class="b" font-size="42.7" text-anchor="end" transform="translate(191.0 511.8) scale(1 1.055)">0</text>
<text class="b" font-size="42.7" text-anchor="end" transform="translate(191.0 412.8) scale(1 1.055)">10</text>
<text class="b" font-size="42.7" text-anchor="end" transform="translate(191.0 313.9) scale(1 1.055)">20</text>
<text class="b" font-size="42.7" text-anchor="end" transform="translate(191.0 215.0) scale(1 1.055)">30</text>
<text x="0" y="0" font-size="42.6" text-anchor="middle" transform="translate(89.8 507.1) rotate(-90)">East (mm)</text>
<text class="b" font-size="42.7" text-anchor="middle" transform="translate(257.80 1708.6) scale(1 1.055)">0</text>
<text class="b" font-size="42.7" text-anchor="middle" transform="translate(392.05 1708.6) scale(1 1.055)">6</text>
<text class="b" font-size="42.7" text-anchor="middle" transform="translate(526.30 1708.6) scale(1 1.055)">12</text>
<text class="b" font-size="42.7" text-anchor="middle" transform="translate(660.55 1708.6) scale(1 1.055)">18</text>
<text class="b" font-size="42.7" text-anchor="middle" transform="translate(794.80 1708.6) scale(1 1.055)">24</text>
<text class="b" font-size="42.7" text-anchor="middle" transform="translate(929.05 1708.6) scale(1 1.055)">30</text>
<text class="b" font-size="42.7" text-anchor="middle" transform="translate(1063.30 1708.6) scale(1 1.055)">36</text>
<text class="b" font-size="42.7" text-anchor="middle" transform="translate(1197.55 1708.6) scale(1 1.055)">42</text>
<text class="b" font-size="42.7" text-anchor="middle" transform="translate(1331.80 1708.6) scale(1 1.055)">48</text>
<text class="b" font-size="42.7" text-anchor="middle" transform="translate(1466.05 1708.6) scale(1 1.055)">54</text>
<text class="b" font-size="42.7" text-anchor="middle" transform="translate(1600.30 1708.6) scale(1 1.055)">60</text>
<text class="b" font-size="42.7" text-anchor="middle" transform="translate(1734.55 1708.6) scale(1 1.055)">66</text>
<text class="b" font-size="42.7" text-anchor="middle" transform="translate(1868.80 1708.6) scale(1 1.055)">72</text>
<text class="b" font-size="42.7" text-anchor="end" transform="translate(191.0 1633.0) scale(1 1.055)">−40</text>
<text class="b" font-size="42.7" text-anchor="end" transform="translate(191.0 1499.4) scale(1 1.055)">−20</text>
<text class="b" font-size="42.7" text-anchor="end" transform="translate(191.0 1365.8) scale(1 1.055)">0</text>
<text class="b" font-size="42.7" text-anchor="end" transform="translate(191.0 1232.3) scale(1 1.055)">20</text>
<text class="b" font-size="42.7" text-anchor="end" transform="translate(191.0 1098.7) scale(1 1.055)">40</text>
<text x="0" y="0" font-size="42.6" text-anchor="middle" transform="translate(89.8 1322.9) rotate(-90)">North (mm)</text>
<text class="b" font-size="42.7" text-anchor="middle" transform="translate(257.80 2524.4) scale(1 1.055)">0</text>
<text class="b" font-size="42.7" text-anchor="middle" transform="translate(392.05 2524.4) scale(1 1.055)">6</text>
<text class="b" font-size="42.7" text-anchor="middle" transform="translate(526.30 2524.4) scale(1 1.055)">12</text>
<text class="b" font-size="42.7" text-anchor="middle" transform="translate(660.55 2524.4) scale(1 1.055)">18</text>
<text class="b" font-size="42.7" text-anchor="middle" transform="translate(794.80 2524.4) scale(1 1.055)">24</text>
<text class="b" font-size="42.7" text-anchor="middle" transform="translate(929.05 2524.4) scale(1 1.055)">30</text>
<text class="b" font-size="42.7" text-anchor="middle" transform="translate(1063.30 2524.4) scale(1 1.055)">36</text>
<text class="b" font-size="42.7" text-anchor="middle" transform="translate(1197.55 2524.4) scale(1 1.055)">42</text>
<text class="b" font-size="42.7" text-anchor="middle" transform="translate(1331.80 2524.4) scale(1 1.055)">48</text>
<text class="b" font-size="42.7" text-anchor="middle" transform="translate(1466.05 2524.4) scale(1 1.055)">54</text>
<text class="b" font-size="42.7" text-anchor="middle" transform="translate(1600.30 2524.4) scale(1 1.055)">60</text>
<text class="b" font-size="42.7" text-anchor="middle" transform="translate(1734.55 2524.4) scale(1 1.055)">66</text>
<text class="b" font-size="42.7" text-anchor="middle" transform="translate(1868.80 2524.4) scale(1 1.055)">72</text>
<text class="b" font-size="42.7" text-anchor="end" transform="translate(191.0 2351.0) scale(1 1.055)">−60</text>
<text class="b" font-size="42.7" text-anchor="end" transform="translate(191.0 2215.3) scale(1 1.055)">−30</text>
<text class="b" font-size="42.7" text-anchor="end" transform="translate(191.0 2079.6) scale(1 1.055)">0</text>
<text class="b" font-size="42.7" text-anchor="end" transform="translate(191.0 1943.9) scale(1 1.055)">30</text>
<text x="0" y="0" font-size="42.6" text-anchor="middle" transform="translate(89.8 2138.7) rotate(-90)">Up (mm)</text>
<text x="1054" y="2582.6" font-size="42.6" text-anchor="middle">Time (hours since beginning of first day UTC)</text>
<text class="b" x="1055.6" y="2725.8" font-size="42.8" text-anchor="middle">Processed Using JPL Rapid Orbits</text>
<text class="b" x="1055.4" y="2765.9" font-size="42.8" text-anchor="middle">by the Nevada Geodetic Laboratory.</text>
<text class="b" x="1055.4" y="2806.7" font-size="42.8" text-anchor="middle">Plotted on 2026-Jan-11.</text>
</g>
</svg></body></html>
